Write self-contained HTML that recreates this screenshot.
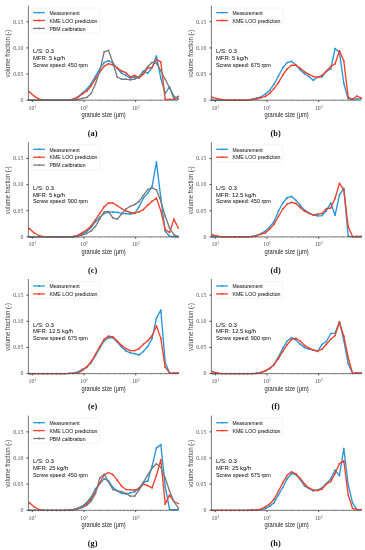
<!DOCTYPE html>
<html><head><meta charset="utf-8"><style>
html,body{margin:0;padding:0;background:#fff;width:365px;height:550px;overflow:hidden}
svg{display:block;will-change:transform}
text{fill:#1e1e1e}
.tk{font-family:"Liberation Serif",serif;font-size:5.8px;fill:#505050}
.sup{font-size:3.7px}
.yl{font-family:"Liberation Sans",sans-serif;font-size:6.3px;fill:#444}
.lb{font-family:"Liberation Sans",sans-serif;font-size:6.4px;fill:#1e1e1e}
.lg{font-family:"Liberation Sans",sans-serif;font-size:6.0px;stroke:#1e1e1e;stroke-width:0.04px}
.an{font-family:"Liberation Sans",sans-serif;font-size:6.2px;stroke:#1e1e1e;stroke-width:0.05px}
.cp{font-family:"Liberation Serif",serif;font-size:8.3px;font-weight:bold;fill:#111}
</style></head><body>
<svg width="365" height="550" viewBox="0 0 365 550">
<rect width="365" height="550" fill="#fff"/>
<polyline points="28.40,100.20 30.02,100.20 34.38,100.20 38.74,100.20 43.10,100.20 47.46,100.20 51.82,100.20 56.18,100.20 60.54,100.20 64.90,100.20 69.26,100.20 73.62,98.90 77.98,96.80 82.34,92.90 86.70,89.20 91.06,83.80 95.42,76.30 99.78,68.90 104.14,62.60 108.50,60.70 112.86,62.80 117.22,68.30 121.58,73.20 125.94,75.40 130.30,78.10 134.66,77.00 139.02,77.00 143.38,71.00 147.74,73.20 152.10,67.50 156.46,56.10 160.82,78.40 165.18,93.50 169.54,86.90 173.90,99.10 178.26,98.70" fill="none" stroke="#2596db" stroke-width="1.35" stroke-linejoin="round"/>
<circle cx="30.02" cy="100.20" r="0.85" fill="#2596db"/>
<circle cx="34.38" cy="100.20" r="0.85" fill="#2596db"/>
<circle cx="38.74" cy="100.20" r="0.85" fill="#2596db"/>
<circle cx="43.10" cy="100.20" r="0.85" fill="#2596db"/>
<circle cx="47.46" cy="100.20" r="0.85" fill="#2596db"/>
<circle cx="51.82" cy="100.20" r="0.85" fill="#2596db"/>
<circle cx="56.18" cy="100.20" r="0.85" fill="#2596db"/>
<circle cx="60.54" cy="100.20" r="0.85" fill="#2596db"/>
<circle cx="64.90" cy="100.20" r="0.85" fill="#2596db"/>
<circle cx="69.26" cy="100.20" r="0.85" fill="#2596db"/>
<circle cx="73.62" cy="98.90" r="0.85" fill="#2596db"/>
<circle cx="77.98" cy="96.80" r="0.85" fill="#2596db"/>
<circle cx="82.34" cy="92.90" r="0.85" fill="#2596db"/>
<circle cx="86.70" cy="89.20" r="0.85" fill="#2596db"/>
<circle cx="91.06" cy="83.80" r="0.85" fill="#2596db"/>
<circle cx="95.42" cy="76.30" r="0.85" fill="#2596db"/>
<circle cx="99.78" cy="68.90" r="0.85" fill="#2596db"/>
<circle cx="104.14" cy="62.60" r="0.85" fill="#2596db"/>
<circle cx="108.50" cy="60.70" r="0.85" fill="#2596db"/>
<circle cx="112.86" cy="62.80" r="0.85" fill="#2596db"/>
<circle cx="117.22" cy="68.30" r="0.85" fill="#2596db"/>
<circle cx="121.58" cy="73.20" r="0.85" fill="#2596db"/>
<circle cx="125.94" cy="75.40" r="0.85" fill="#2596db"/>
<circle cx="130.30" cy="78.10" r="0.85" fill="#2596db"/>
<circle cx="134.66" cy="77.00" r="0.85" fill="#2596db"/>
<circle cx="139.02" cy="77.00" r="0.85" fill="#2596db"/>
<circle cx="143.38" cy="71.00" r="0.85" fill="#2596db"/>
<circle cx="147.74" cy="73.20" r="0.85" fill="#2596db"/>
<circle cx="152.10" cy="67.50" r="0.85" fill="#2596db"/>
<circle cx="156.46" cy="56.10" r="0.85" fill="#2596db"/>
<circle cx="160.82" cy="78.40" r="0.85" fill="#2596db"/>
<circle cx="165.18" cy="93.50" r="0.85" fill="#2596db"/>
<circle cx="169.54" cy="86.90" r="0.85" fill="#2596db"/>
<circle cx="173.90" cy="99.10" r="0.85" fill="#2596db"/>
<circle cx="178.26" cy="98.70" r="0.85" fill="#2596db"/>
<polyline points="28.40,91.00 30.02,92.50 34.38,96.30 38.74,98.80 43.10,99.80 47.46,100.20 51.82,100.20 56.18,100.20 60.54,100.20 64.90,100.20 69.26,99.90 73.62,99.20 77.98,97.30 82.34,94.00 86.70,91.20 91.06,86.00 95.42,78.90 99.78,72.00 104.14,66.40 108.50,63.60 112.86,65.00 117.22,67.70 121.58,71.00 125.94,72.70 130.30,77.00 134.66,75.40 139.02,78.10 143.38,74.30 147.74,67.80 152.10,67.50 156.46,59.50 160.82,61.80 165.18,99.10 169.54,99.30 173.90,99.10 178.26,96.30" fill="none" stroke="#f2402a" stroke-width="1.35" stroke-linejoin="round"/>
<circle cx="30.02" cy="92.50" r="0.85" fill="#f2402a"/>
<circle cx="34.38" cy="96.30" r="0.85" fill="#f2402a"/>
<circle cx="38.74" cy="98.80" r="0.85" fill="#f2402a"/>
<circle cx="43.10" cy="99.80" r="0.85" fill="#f2402a"/>
<circle cx="47.46" cy="100.20" r="0.85" fill="#f2402a"/>
<circle cx="51.82" cy="100.20" r="0.85" fill="#f2402a"/>
<circle cx="56.18" cy="100.20" r="0.85" fill="#f2402a"/>
<circle cx="60.54" cy="100.20" r="0.85" fill="#f2402a"/>
<circle cx="64.90" cy="100.20" r="0.85" fill="#f2402a"/>
<circle cx="69.26" cy="99.90" r="0.85" fill="#f2402a"/>
<circle cx="73.62" cy="99.20" r="0.85" fill="#f2402a"/>
<circle cx="77.98" cy="97.30" r="0.85" fill="#f2402a"/>
<circle cx="82.34" cy="94.00" r="0.85" fill="#f2402a"/>
<circle cx="86.70" cy="91.20" r="0.85" fill="#f2402a"/>
<circle cx="91.06" cy="86.00" r="0.85" fill="#f2402a"/>
<circle cx="95.42" cy="78.90" r="0.85" fill="#f2402a"/>
<circle cx="99.78" cy="72.00" r="0.85" fill="#f2402a"/>
<circle cx="104.14" cy="66.40" r="0.85" fill="#f2402a"/>
<circle cx="108.50" cy="63.60" r="0.85" fill="#f2402a"/>
<circle cx="112.86" cy="65.00" r="0.85" fill="#f2402a"/>
<circle cx="117.22" cy="67.70" r="0.85" fill="#f2402a"/>
<circle cx="121.58" cy="71.00" r="0.85" fill="#f2402a"/>
<circle cx="125.94" cy="72.70" r="0.85" fill="#f2402a"/>
<circle cx="130.30" cy="77.00" r="0.85" fill="#f2402a"/>
<circle cx="134.66" cy="75.40" r="0.85" fill="#f2402a"/>
<circle cx="139.02" cy="78.10" r="0.85" fill="#f2402a"/>
<circle cx="143.38" cy="74.30" r="0.85" fill="#f2402a"/>
<circle cx="147.74" cy="67.80" r="0.85" fill="#f2402a"/>
<circle cx="152.10" cy="67.50" r="0.85" fill="#f2402a"/>
<circle cx="156.46" cy="59.50" r="0.85" fill="#f2402a"/>
<circle cx="160.82" cy="61.80" r="0.85" fill="#f2402a"/>
<circle cx="165.18" cy="99.10" r="0.85" fill="#f2402a"/>
<circle cx="169.54" cy="99.30" r="0.85" fill="#f2402a"/>
<circle cx="173.90" cy="99.10" r="0.85" fill="#f2402a"/>
<circle cx="178.26" cy="96.30" r="0.85" fill="#f2402a"/>
<polyline points="28.40,100.20 30.02,100.20 34.38,100.20 38.74,100.20 43.10,100.20 47.46,100.20 51.82,100.20 56.18,100.20 60.54,100.20 64.90,100.20 69.26,100.20 73.62,100.00 77.98,99.50 82.34,98.40 86.70,97.40 91.06,93.50 95.42,84.00 99.78,70.80 104.14,51.80 108.50,50.40 112.86,62.80 117.22,77.00 121.58,79.20 125.94,79.20 130.30,79.80 134.66,79.20 139.02,76.80 143.38,72.10 147.74,66.60 152.10,62.30 156.46,63.20 160.82,70.80 165.18,79.30 169.54,87.80 173.90,96.30 178.26,98.70" fill="none" stroke="#7a7a7a" stroke-width="1.35" stroke-linejoin="round"/>
<circle cx="30.02" cy="100.20" r="0.85" fill="#7a7a7a"/>
<circle cx="34.38" cy="100.20" r="0.85" fill="#7a7a7a"/>
<circle cx="38.74" cy="100.20" r="0.85" fill="#7a7a7a"/>
<circle cx="43.10" cy="100.20" r="0.85" fill="#7a7a7a"/>
<circle cx="47.46" cy="100.20" r="0.85" fill="#7a7a7a"/>
<circle cx="51.82" cy="100.20" r="0.85" fill="#7a7a7a"/>
<circle cx="56.18" cy="100.20" r="0.85" fill="#7a7a7a"/>
<circle cx="60.54" cy="100.20" r="0.85" fill="#7a7a7a"/>
<circle cx="64.90" cy="100.20" r="0.85" fill="#7a7a7a"/>
<circle cx="69.26" cy="100.20" r="0.85" fill="#7a7a7a"/>
<circle cx="73.62" cy="100.00" r="0.85" fill="#7a7a7a"/>
<circle cx="77.98" cy="99.50" r="0.85" fill="#7a7a7a"/>
<circle cx="82.34" cy="98.40" r="0.85" fill="#7a7a7a"/>
<circle cx="86.70" cy="97.40" r="0.85" fill="#7a7a7a"/>
<circle cx="91.06" cy="93.50" r="0.85" fill="#7a7a7a"/>
<circle cx="95.42" cy="84.00" r="0.85" fill="#7a7a7a"/>
<circle cx="99.78" cy="70.80" r="0.85" fill="#7a7a7a"/>
<circle cx="104.14" cy="51.80" r="0.85" fill="#7a7a7a"/>
<circle cx="108.50" cy="50.40" r="0.85" fill="#7a7a7a"/>
<circle cx="112.86" cy="62.80" r="0.85" fill="#7a7a7a"/>
<circle cx="117.22" cy="77.00" r="0.85" fill="#7a7a7a"/>
<circle cx="121.58" cy="79.20" r="0.85" fill="#7a7a7a"/>
<circle cx="125.94" cy="79.20" r="0.85" fill="#7a7a7a"/>
<circle cx="130.30" cy="79.80" r="0.85" fill="#7a7a7a"/>
<circle cx="134.66" cy="79.20" r="0.85" fill="#7a7a7a"/>
<circle cx="139.02" cy="76.80" r="0.85" fill="#7a7a7a"/>
<circle cx="143.38" cy="72.10" r="0.85" fill="#7a7a7a"/>
<circle cx="147.74" cy="66.60" r="0.85" fill="#7a7a7a"/>
<circle cx="152.10" cy="62.30" r="0.85" fill="#7a7a7a"/>
<circle cx="156.46" cy="63.20" r="0.85" fill="#7a7a7a"/>
<circle cx="160.82" cy="70.80" r="0.85" fill="#7a7a7a"/>
<circle cx="165.18" cy="79.30" r="0.85" fill="#7a7a7a"/>
<circle cx="169.54" cy="87.80" r="0.85" fill="#7a7a7a"/>
<circle cx="173.90" cy="96.30" r="0.85" fill="#7a7a7a"/>
<circle cx="178.26" cy="98.70" r="0.85" fill="#7a7a7a"/>
<g transform="translate(0,0)">
<line x1="28.4" y1="5.6" x2="28.4" y2="100.60000000000001" stroke="#555555" stroke-width="0.8"/>
<line x1="28.0" y1="100.2" x2="178.2" y2="100.2" stroke="#555555" stroke-width="0.8"/>
<line x1="26.5" y1="100.20" x2="28.4" y2="100.20" stroke="#333" stroke-width="0.9"/>
<text x="23.3" y="102.10" class="tk" text-anchor="end">0</text>
<line x1="26.5" y1="74.05" x2="28.4" y2="74.05" stroke="#333" stroke-width="0.9"/>
<text x="23.3" y="75.95" class="tk" text-anchor="end">0.05</text>
<line x1="26.5" y1="47.90" x2="28.4" y2="47.90" stroke="#333" stroke-width="0.9"/>
<text x="23.3" y="49.80" class="tk" text-anchor="end">0.10</text>
<line x1="26.5" y1="21.75" x2="28.4" y2="21.75" stroke="#333" stroke-width="0.9"/>
<text x="23.3" y="23.65" class="tk" text-anchor="end">0.15</text>
<line x1="32.30" y1="100.2" x2="32.30" y2="102.0" stroke="#333" stroke-width="0.9"/>
<text x="32.40" y="109.50" class="tk" text-anchor="middle">10<tspan class="sup" dy="-1.8">1</tspan></text>
<line x1="84.00" y1="100.2" x2="84.00" y2="102.0" stroke="#333" stroke-width="0.9"/>
<text x="84.10" y="109.50" class="tk" text-anchor="middle">10<tspan class="sup" dy="-1.8">2</tspan></text>
<line x1="135.70" y1="100.2" x2="135.70" y2="102.0" stroke="#333" stroke-width="0.9"/>
<text x="135.80" y="109.50" class="tk" text-anchor="middle">10<tspan class="sup" dy="-1.8">3</tspan></text>
<line x1="29.93" y1="100.2" x2="29.93" y2="101.10000000000001" stroke="#555555" stroke-width="0.5"/>
<line x1="47.86" y1="100.2" x2="47.86" y2="101.10000000000001" stroke="#555555" stroke-width="0.5"/>
<line x1="56.97" y1="100.2" x2="56.97" y2="101.10000000000001" stroke="#555555" stroke-width="0.5"/>
<line x1="63.43" y1="100.2" x2="63.43" y2="101.10000000000001" stroke="#555555" stroke-width="0.5"/>
<line x1="68.44" y1="100.2" x2="68.44" y2="101.10000000000001" stroke="#555555" stroke-width="0.5"/>
<line x1="72.53" y1="100.2" x2="72.53" y2="101.10000000000001" stroke="#555555" stroke-width="0.5"/>
<line x1="75.99" y1="100.2" x2="75.99" y2="101.10000000000001" stroke="#555555" stroke-width="0.5"/>
<line x1="78.99" y1="100.2" x2="78.99" y2="101.10000000000001" stroke="#555555" stroke-width="0.5"/>
<line x1="81.63" y1="100.2" x2="81.63" y2="101.10000000000001" stroke="#555555" stroke-width="0.5"/>
<line x1="99.56" y1="100.2" x2="99.56" y2="101.10000000000001" stroke="#555555" stroke-width="0.5"/>
<line x1="108.67" y1="100.2" x2="108.67" y2="101.10000000000001" stroke="#555555" stroke-width="0.5"/>
<line x1="115.13" y1="100.2" x2="115.13" y2="101.10000000000001" stroke="#555555" stroke-width="0.5"/>
<line x1="120.14" y1="100.2" x2="120.14" y2="101.10000000000001" stroke="#555555" stroke-width="0.5"/>
<line x1="124.23" y1="100.2" x2="124.23" y2="101.10000000000001" stroke="#555555" stroke-width="0.5"/>
<line x1="127.69" y1="100.2" x2="127.69" y2="101.10000000000001" stroke="#555555" stroke-width="0.5"/>
<line x1="130.69" y1="100.2" x2="130.69" y2="101.10000000000001" stroke="#555555" stroke-width="0.5"/>
<line x1="133.33" y1="100.2" x2="133.33" y2="101.10000000000001" stroke="#555555" stroke-width="0.5"/>
<line x1="151.26" y1="100.2" x2="151.26" y2="101.10000000000001" stroke="#555555" stroke-width="0.5"/>
<line x1="160.37" y1="100.2" x2="160.37" y2="101.10000000000001" stroke="#555555" stroke-width="0.5"/>
<line x1="166.83" y1="100.2" x2="166.83" y2="101.10000000000001" stroke="#555555" stroke-width="0.5"/>
<line x1="171.84" y1="100.2" x2="171.84" y2="101.10000000000001" stroke="#555555" stroke-width="0.5"/>
<line x1="175.93" y1="100.2" x2="175.93" y2="101.10000000000001" stroke="#555555" stroke-width="0.5"/>
<text transform="translate(103.6,117.3) scale(0.895,1)" class="lb" text-anchor="middle">granule size (μm)</text>
<text transform="translate(10.1,53.6) rotate(-90) scale(0.945,1)" class="yl" text-anchor="middle">volume fraction (-)</text>
<rect x="31.5" y="8.1" width="68.2" height="25.0" rx="1" fill="#fff" fill-opacity="0.8" stroke="#e6e6e6" stroke-width="0.4"/>
<line x1="33.1" y1="12.60" x2="44.9" y2="12.60" stroke="#2596db" stroke-width="1.3"/>
<circle cx="39.2" cy="12.60" r="0.9" fill="#2596db"/>
<text transform="translate(49.4,14.80) scale(0.823,1)" class="lg">Measurement</text>
<line x1="33.1" y1="20.50" x2="44.9" y2="20.50" stroke="#f2402a" stroke-width="1.3"/>
<circle cx="39.2" cy="20.50" r="0.9" fill="#f2402a"/>
<text transform="translate(49.4,22.70) scale(0.878,1)" class="lg">KME LOO prediction</text>
<line x1="33.1" y1="28.40" x2="44.9" y2="28.40" stroke="#7a7a7a" stroke-width="1.3"/>
<circle cx="39.2" cy="28.40" r="0.9" fill="#7a7a7a"/>
<text transform="translate(49.4,30.60) scale(0.864,1)" class="lg">PBM calibration</text>
<text transform="translate(32.9,53.20) scale(0.99,1)" class="an">L/S: 0.3</text>
<text transform="translate(32.9,59.85) scale(0.95,1)" class="an">MFR: 5 kg/h</text>
<text transform="translate(32.9,66.50) scale(0.888,1)" class="an">Screw speed: 450 rpm</text>
<text x="92.6" y="136.1" class="cp" text-anchor="middle">(a)</text>
</g>
<polyline points="211.40,100.20 213.02,100.20 217.38,100.20 221.74,100.20 226.10,100.20 230.46,100.20 234.82,100.20 239.18,100.20 243.54,100.20 247.90,100.20 252.26,99.20 256.62,98.10 260.98,96.80 265.34,94.00 269.70,90.20 274.06,84.20 278.42,76.00 282.78,67.70 287.14,62.60 291.50,61.30 295.86,65.00 300.22,69.90 304.58,73.80 308.94,76.50 313.30,80.30 317.66,77.00 322.02,76.80 326.38,71.40 330.74,69.00 335.10,48.50 339.46,52.40 343.82,83.50 348.18,98.70 352.54,99.30 356.90,98.90 361.26,98.70" fill="none" stroke="#2596db" stroke-width="1.35" stroke-linejoin="round"/>
<circle cx="213.02" cy="100.20" r="0.85" fill="#2596db"/>
<circle cx="217.38" cy="100.20" r="0.85" fill="#2596db"/>
<circle cx="221.74" cy="100.20" r="0.85" fill="#2596db"/>
<circle cx="226.10" cy="100.20" r="0.85" fill="#2596db"/>
<circle cx="230.46" cy="100.20" r="0.85" fill="#2596db"/>
<circle cx="234.82" cy="100.20" r="0.85" fill="#2596db"/>
<circle cx="239.18" cy="100.20" r="0.85" fill="#2596db"/>
<circle cx="243.54" cy="100.20" r="0.85" fill="#2596db"/>
<circle cx="247.90" cy="100.20" r="0.85" fill="#2596db"/>
<circle cx="252.26" cy="99.20" r="0.85" fill="#2596db"/>
<circle cx="256.62" cy="98.10" r="0.85" fill="#2596db"/>
<circle cx="260.98" cy="96.80" r="0.85" fill="#2596db"/>
<circle cx="265.34" cy="94.00" r="0.85" fill="#2596db"/>
<circle cx="269.70" cy="90.20" r="0.85" fill="#2596db"/>
<circle cx="274.06" cy="84.20" r="0.85" fill="#2596db"/>
<circle cx="278.42" cy="76.00" r="0.85" fill="#2596db"/>
<circle cx="282.78" cy="67.70" r="0.85" fill="#2596db"/>
<circle cx="287.14" cy="62.60" r="0.85" fill="#2596db"/>
<circle cx="291.50" cy="61.30" r="0.85" fill="#2596db"/>
<circle cx="295.86" cy="65.00" r="0.85" fill="#2596db"/>
<circle cx="300.22" cy="69.90" r="0.85" fill="#2596db"/>
<circle cx="304.58" cy="73.80" r="0.85" fill="#2596db"/>
<circle cx="308.94" cy="76.50" r="0.85" fill="#2596db"/>
<circle cx="313.30" cy="80.30" r="0.85" fill="#2596db"/>
<circle cx="317.66" cy="77.00" r="0.85" fill="#2596db"/>
<circle cx="322.02" cy="76.80" r="0.85" fill="#2596db"/>
<circle cx="326.38" cy="71.40" r="0.85" fill="#2596db"/>
<circle cx="330.74" cy="69.00" r="0.85" fill="#2596db"/>
<circle cx="335.10" cy="48.50" r="0.85" fill="#2596db"/>
<circle cx="339.46" cy="52.40" r="0.85" fill="#2596db"/>
<circle cx="343.82" cy="83.50" r="0.85" fill="#2596db"/>
<circle cx="348.18" cy="98.70" r="0.85" fill="#2596db"/>
<circle cx="352.54" cy="99.30" r="0.85" fill="#2596db"/>
<circle cx="356.90" cy="98.90" r="0.85" fill="#2596db"/>
<circle cx="361.26" cy="98.70" r="0.85" fill="#2596db"/>
<polyline points="211.40,97.00 213.02,97.60 217.38,98.70 221.74,99.50 226.10,100.20 230.46,100.20 234.82,100.20 239.18,100.20 243.54,100.20 247.90,100.20 252.26,99.50 256.62,99.00 260.98,97.60 265.34,96.40 269.70,93.20 274.06,88.60 278.42,82.60 282.78,75.00 287.14,68.90 291.50,65.30 295.86,65.00 300.22,68.30 304.58,71.80 308.94,74.30 313.30,76.50 317.66,77.30 322.02,75.40 326.38,71.00 330.74,66.60 335.10,63.80 339.46,50.70 343.82,61.10 348.18,97.10 352.54,99.30 356.90,96.00 361.26,98.20" fill="none" stroke="#f2402a" stroke-width="1.35" stroke-linejoin="round"/>
<circle cx="213.02" cy="97.60" r="0.85" fill="#f2402a"/>
<circle cx="217.38" cy="98.70" r="0.85" fill="#f2402a"/>
<circle cx="221.74" cy="99.50" r="0.85" fill="#f2402a"/>
<circle cx="226.10" cy="100.20" r="0.85" fill="#f2402a"/>
<circle cx="230.46" cy="100.20" r="0.85" fill="#f2402a"/>
<circle cx="234.82" cy="100.20" r="0.85" fill="#f2402a"/>
<circle cx="239.18" cy="100.20" r="0.85" fill="#f2402a"/>
<circle cx="243.54" cy="100.20" r="0.85" fill="#f2402a"/>
<circle cx="247.90" cy="100.20" r="0.85" fill="#f2402a"/>
<circle cx="252.26" cy="99.50" r="0.85" fill="#f2402a"/>
<circle cx="256.62" cy="99.00" r="0.85" fill="#f2402a"/>
<circle cx="260.98" cy="97.60" r="0.85" fill="#f2402a"/>
<circle cx="265.34" cy="96.40" r="0.85" fill="#f2402a"/>
<circle cx="269.70" cy="93.20" r="0.85" fill="#f2402a"/>
<circle cx="274.06" cy="88.60" r="0.85" fill="#f2402a"/>
<circle cx="278.42" cy="82.60" r="0.85" fill="#f2402a"/>
<circle cx="282.78" cy="75.00" r="0.85" fill="#f2402a"/>
<circle cx="287.14" cy="68.90" r="0.85" fill="#f2402a"/>
<circle cx="291.50" cy="65.30" r="0.85" fill="#f2402a"/>
<circle cx="295.86" cy="65.00" r="0.85" fill="#f2402a"/>
<circle cx="300.22" cy="68.30" r="0.85" fill="#f2402a"/>
<circle cx="304.58" cy="71.80" r="0.85" fill="#f2402a"/>
<circle cx="308.94" cy="74.30" r="0.85" fill="#f2402a"/>
<circle cx="313.30" cy="76.50" r="0.85" fill="#f2402a"/>
<circle cx="317.66" cy="77.30" r="0.85" fill="#f2402a"/>
<circle cx="322.02" cy="75.40" r="0.85" fill="#f2402a"/>
<circle cx="326.38" cy="71.00" r="0.85" fill="#f2402a"/>
<circle cx="330.74" cy="66.60" r="0.85" fill="#f2402a"/>
<circle cx="335.10" cy="63.80" r="0.85" fill="#f2402a"/>
<circle cx="339.46" cy="50.70" r="0.85" fill="#f2402a"/>
<circle cx="343.82" cy="61.10" r="0.85" fill="#f2402a"/>
<circle cx="348.18" cy="97.10" r="0.85" fill="#f2402a"/>
<circle cx="352.54" cy="99.30" r="0.85" fill="#f2402a"/>
<circle cx="356.90" cy="96.00" r="0.85" fill="#f2402a"/>
<circle cx="361.26" cy="98.20" r="0.85" fill="#f2402a"/>
<g transform="translate(183,0)">
<line x1="28.4" y1="5.6" x2="28.4" y2="100.60000000000001" stroke="#555555" stroke-width="0.8"/>
<line x1="28.0" y1="100.2" x2="178.2" y2="100.2" stroke="#555555" stroke-width="0.8"/>
<line x1="26.5" y1="100.20" x2="28.4" y2="100.20" stroke="#333" stroke-width="0.9"/>
<text x="23.3" y="102.10" class="tk" text-anchor="end">0</text>
<line x1="26.5" y1="74.05" x2="28.4" y2="74.05" stroke="#333" stroke-width="0.9"/>
<text x="23.3" y="75.95" class="tk" text-anchor="end">0.05</text>
<line x1="26.5" y1="47.90" x2="28.4" y2="47.90" stroke="#333" stroke-width="0.9"/>
<text x="23.3" y="49.80" class="tk" text-anchor="end">0.10</text>
<line x1="26.5" y1="21.75" x2="28.4" y2="21.75" stroke="#333" stroke-width="0.9"/>
<text x="23.3" y="23.65" class="tk" text-anchor="end">0.15</text>
<line x1="32.30" y1="100.2" x2="32.30" y2="102.0" stroke="#333" stroke-width="0.9"/>
<text x="32.40" y="109.50" class="tk" text-anchor="middle">10<tspan class="sup" dy="-1.8">1</tspan></text>
<line x1="84.00" y1="100.2" x2="84.00" y2="102.0" stroke="#333" stroke-width="0.9"/>
<text x="84.10" y="109.50" class="tk" text-anchor="middle">10<tspan class="sup" dy="-1.8">2</tspan></text>
<line x1="135.70" y1="100.2" x2="135.70" y2="102.0" stroke="#333" stroke-width="0.9"/>
<text x="135.80" y="109.50" class="tk" text-anchor="middle">10<tspan class="sup" dy="-1.8">3</tspan></text>
<line x1="29.93" y1="100.2" x2="29.93" y2="101.10000000000001" stroke="#555555" stroke-width="0.5"/>
<line x1="47.86" y1="100.2" x2="47.86" y2="101.10000000000001" stroke="#555555" stroke-width="0.5"/>
<line x1="56.97" y1="100.2" x2="56.97" y2="101.10000000000001" stroke="#555555" stroke-width="0.5"/>
<line x1="63.43" y1="100.2" x2="63.43" y2="101.10000000000001" stroke="#555555" stroke-width="0.5"/>
<line x1="68.44" y1="100.2" x2="68.44" y2="101.10000000000001" stroke="#555555" stroke-width="0.5"/>
<line x1="72.53" y1="100.2" x2="72.53" y2="101.10000000000001" stroke="#555555" stroke-width="0.5"/>
<line x1="75.99" y1="100.2" x2="75.99" y2="101.10000000000001" stroke="#555555" stroke-width="0.5"/>
<line x1="78.99" y1="100.2" x2="78.99" y2="101.10000000000001" stroke="#555555" stroke-width="0.5"/>
<line x1="81.63" y1="100.2" x2="81.63" y2="101.10000000000001" stroke="#555555" stroke-width="0.5"/>
<line x1="99.56" y1="100.2" x2="99.56" y2="101.10000000000001" stroke="#555555" stroke-width="0.5"/>
<line x1="108.67" y1="100.2" x2="108.67" y2="101.10000000000001" stroke="#555555" stroke-width="0.5"/>
<line x1="115.13" y1="100.2" x2="115.13" y2="101.10000000000001" stroke="#555555" stroke-width="0.5"/>
<line x1="120.14" y1="100.2" x2="120.14" y2="101.10000000000001" stroke="#555555" stroke-width="0.5"/>
<line x1="124.23" y1="100.2" x2="124.23" y2="101.10000000000001" stroke="#555555" stroke-width="0.5"/>
<line x1="127.69" y1="100.2" x2="127.69" y2="101.10000000000001" stroke="#555555" stroke-width="0.5"/>
<line x1="130.69" y1="100.2" x2="130.69" y2="101.10000000000001" stroke="#555555" stroke-width="0.5"/>
<line x1="133.33" y1="100.2" x2="133.33" y2="101.10000000000001" stroke="#555555" stroke-width="0.5"/>
<line x1="151.26" y1="100.2" x2="151.26" y2="101.10000000000001" stroke="#555555" stroke-width="0.5"/>
<line x1="160.37" y1="100.2" x2="160.37" y2="101.10000000000001" stroke="#555555" stroke-width="0.5"/>
<line x1="166.83" y1="100.2" x2="166.83" y2="101.10000000000001" stroke="#555555" stroke-width="0.5"/>
<line x1="171.84" y1="100.2" x2="171.84" y2="101.10000000000001" stroke="#555555" stroke-width="0.5"/>
<line x1="175.93" y1="100.2" x2="175.93" y2="101.10000000000001" stroke="#555555" stroke-width="0.5"/>
<text transform="translate(103.6,117.3) scale(0.895,1)" class="lb" text-anchor="middle">granule size (μm)</text>
<text transform="translate(10.1,53.6) rotate(-90) scale(0.945,1)" class="yl" text-anchor="middle">volume fraction (-)</text>
<rect x="31.5" y="8.1" width="68.2" height="17.1" rx="1" fill="#fff" fill-opacity="0.8" stroke="#e6e6e6" stroke-width="0.4"/>
<line x1="33.1" y1="12.60" x2="44.9" y2="12.60" stroke="#2596db" stroke-width="1.3"/>
<circle cx="39.2" cy="12.60" r="0.9" fill="#2596db"/>
<text transform="translate(49.4,14.80) scale(0.823,1)" class="lg">Measurement</text>
<line x1="33.1" y1="20.50" x2="44.9" y2="20.50" stroke="#f2402a" stroke-width="1.3"/>
<circle cx="39.2" cy="20.50" r="0.9" fill="#f2402a"/>
<text transform="translate(49.4,22.70) scale(0.878,1)" class="lg">KME LOO prediction</text>
<text transform="translate(32.9,53.20) scale(0.99,1)" class="an">L/S: 0.3</text>
<text transform="translate(32.9,59.85) scale(0.95,1)" class="an">MFR: 5 kg/h</text>
<text transform="translate(32.9,66.50) scale(0.888,1)" class="an">Screw speed: 675 rpm</text>
<text x="92.6" y="136.1" class="cp" text-anchor="middle">(b)</text>
</g>
<polyline points="28.40,236.90 30.02,236.90 34.38,236.90 38.74,236.90 43.10,236.90 47.46,236.90 51.82,236.90 56.18,236.90 60.54,236.90 64.90,236.90 69.26,236.90 73.62,236.40 77.98,235.30 82.34,234.00 86.70,231.60 91.06,227.60 95.42,221.70 99.78,217.30 104.14,213.40 108.50,212.30 112.86,211.80 117.22,212.30 121.58,213.40 125.94,213.70 130.30,214.00 134.66,213.40 139.02,206.80 143.38,198.10 147.74,193.10 152.10,186.30 156.46,162.20 160.82,198.20 165.18,231.00 169.54,236.20 173.90,236.70 178.26,236.70" fill="none" stroke="#2596db" stroke-width="1.35" stroke-linejoin="round"/>
<circle cx="30.02" cy="236.90" r="0.85" fill="#2596db"/>
<circle cx="34.38" cy="236.90" r="0.85" fill="#2596db"/>
<circle cx="38.74" cy="236.90" r="0.85" fill="#2596db"/>
<circle cx="43.10" cy="236.90" r="0.85" fill="#2596db"/>
<circle cx="47.46" cy="236.90" r="0.85" fill="#2596db"/>
<circle cx="51.82" cy="236.90" r="0.85" fill="#2596db"/>
<circle cx="56.18" cy="236.90" r="0.85" fill="#2596db"/>
<circle cx="60.54" cy="236.90" r="0.85" fill="#2596db"/>
<circle cx="64.90" cy="236.90" r="0.85" fill="#2596db"/>
<circle cx="69.26" cy="236.90" r="0.85" fill="#2596db"/>
<circle cx="73.62" cy="236.40" r="0.85" fill="#2596db"/>
<circle cx="77.98" cy="235.30" r="0.85" fill="#2596db"/>
<circle cx="82.34" cy="234.00" r="0.85" fill="#2596db"/>
<circle cx="86.70" cy="231.60" r="0.85" fill="#2596db"/>
<circle cx="91.06" cy="227.60" r="0.85" fill="#2596db"/>
<circle cx="95.42" cy="221.70" r="0.85" fill="#2596db"/>
<circle cx="99.78" cy="217.30" r="0.85" fill="#2596db"/>
<circle cx="104.14" cy="213.40" r="0.85" fill="#2596db"/>
<circle cx="108.50" cy="212.30" r="0.85" fill="#2596db"/>
<circle cx="112.86" cy="211.80" r="0.85" fill="#2596db"/>
<circle cx="117.22" cy="212.30" r="0.85" fill="#2596db"/>
<circle cx="121.58" cy="213.40" r="0.85" fill="#2596db"/>
<circle cx="125.94" cy="213.70" r="0.85" fill="#2596db"/>
<circle cx="130.30" cy="214.00" r="0.85" fill="#2596db"/>
<circle cx="134.66" cy="213.40" r="0.85" fill="#2596db"/>
<circle cx="139.02" cy="206.80" r="0.85" fill="#2596db"/>
<circle cx="143.38" cy="198.10" r="0.85" fill="#2596db"/>
<circle cx="147.74" cy="193.10" r="0.85" fill="#2596db"/>
<circle cx="152.10" cy="186.30" r="0.85" fill="#2596db"/>
<circle cx="156.46" cy="162.20" r="0.85" fill="#2596db"/>
<circle cx="160.82" cy="198.20" r="0.85" fill="#2596db"/>
<circle cx="165.18" cy="231.00" r="0.85" fill="#2596db"/>
<circle cx="169.54" cy="236.20" r="0.85" fill="#2596db"/>
<circle cx="173.90" cy="236.70" r="0.85" fill="#2596db"/>
<circle cx="178.26" cy="236.70" r="0.85" fill="#2596db"/>
<polyline points="28.40,227.70 30.02,229.20 34.38,233.00 38.74,235.50 43.10,236.60 47.46,236.90 51.82,236.90 56.18,236.90 60.54,236.90 64.90,236.90 69.26,236.90 73.62,236.50 77.98,235.30 82.34,232.70 86.70,230.00 91.06,225.90 95.42,219.80 99.78,213.40 104.14,206.80 108.50,203.00 112.86,203.00 117.22,205.70 121.58,208.50 125.94,211.00 130.30,212.30 134.66,212.90 139.02,211.80 143.38,209.60 147.74,205.20 152.10,201.20 156.46,198.20 160.82,210.90 165.18,229.50 169.54,232.50 173.90,219.10 178.26,228.00" fill="none" stroke="#f2402a" stroke-width="1.35" stroke-linejoin="round"/>
<circle cx="30.02" cy="229.20" r="0.85" fill="#f2402a"/>
<circle cx="34.38" cy="233.00" r="0.85" fill="#f2402a"/>
<circle cx="38.74" cy="235.50" r="0.85" fill="#f2402a"/>
<circle cx="43.10" cy="236.60" r="0.85" fill="#f2402a"/>
<circle cx="47.46" cy="236.90" r="0.85" fill="#f2402a"/>
<circle cx="51.82" cy="236.90" r="0.85" fill="#f2402a"/>
<circle cx="56.18" cy="236.90" r="0.85" fill="#f2402a"/>
<circle cx="60.54" cy="236.90" r="0.85" fill="#f2402a"/>
<circle cx="64.90" cy="236.90" r="0.85" fill="#f2402a"/>
<circle cx="69.26" cy="236.90" r="0.85" fill="#f2402a"/>
<circle cx="73.62" cy="236.50" r="0.85" fill="#f2402a"/>
<circle cx="77.98" cy="235.30" r="0.85" fill="#f2402a"/>
<circle cx="82.34" cy="232.70" r="0.85" fill="#f2402a"/>
<circle cx="86.70" cy="230.00" r="0.85" fill="#f2402a"/>
<circle cx="91.06" cy="225.90" r="0.85" fill="#f2402a"/>
<circle cx="95.42" cy="219.80" r="0.85" fill="#f2402a"/>
<circle cx="99.78" cy="213.40" r="0.85" fill="#f2402a"/>
<circle cx="104.14" cy="206.80" r="0.85" fill="#f2402a"/>
<circle cx="108.50" cy="203.00" r="0.85" fill="#f2402a"/>
<circle cx="112.86" cy="203.00" r="0.85" fill="#f2402a"/>
<circle cx="117.22" cy="205.70" r="0.85" fill="#f2402a"/>
<circle cx="121.58" cy="208.50" r="0.85" fill="#f2402a"/>
<circle cx="125.94" cy="211.00" r="0.85" fill="#f2402a"/>
<circle cx="130.30" cy="212.30" r="0.85" fill="#f2402a"/>
<circle cx="134.66" cy="212.90" r="0.85" fill="#f2402a"/>
<circle cx="139.02" cy="211.80" r="0.85" fill="#f2402a"/>
<circle cx="143.38" cy="209.60" r="0.85" fill="#f2402a"/>
<circle cx="147.74" cy="205.20" r="0.85" fill="#f2402a"/>
<circle cx="152.10" cy="201.20" r="0.85" fill="#f2402a"/>
<circle cx="156.46" cy="198.20" r="0.85" fill="#f2402a"/>
<circle cx="160.82" cy="210.90" r="0.85" fill="#f2402a"/>
<circle cx="165.18" cy="229.50" r="0.85" fill="#f2402a"/>
<circle cx="169.54" cy="232.50" r="0.85" fill="#f2402a"/>
<circle cx="173.90" cy="219.10" r="0.85" fill="#f2402a"/>
<circle cx="178.26" cy="228.00" r="0.85" fill="#f2402a"/>
<polyline points="28.40,236.90 30.02,236.90 34.38,236.90 38.74,236.90 43.10,236.90 47.46,236.90 51.82,236.90 56.18,236.90 60.54,236.90 64.90,236.90 69.26,236.90 73.62,236.90 77.98,236.40 82.34,234.90 86.70,233.50 91.06,230.90 95.42,226.50 99.78,218.60 104.14,211.80 108.50,211.50 112.86,217.80 117.22,219.20 121.58,214.00 125.94,209.00 130.30,206.30 134.66,204.60 139.02,201.40 143.38,195.30 147.74,189.60 152.10,187.80 156.46,190.00 160.82,201.20 165.18,216.10 169.54,228.00 173.90,234.70 178.26,236.70" fill="none" stroke="#7a7a7a" stroke-width="1.35" stroke-linejoin="round"/>
<circle cx="30.02" cy="236.90" r="0.85" fill="#7a7a7a"/>
<circle cx="34.38" cy="236.90" r="0.85" fill="#7a7a7a"/>
<circle cx="38.74" cy="236.90" r="0.85" fill="#7a7a7a"/>
<circle cx="43.10" cy="236.90" r="0.85" fill="#7a7a7a"/>
<circle cx="47.46" cy="236.90" r="0.85" fill="#7a7a7a"/>
<circle cx="51.82" cy="236.90" r="0.85" fill="#7a7a7a"/>
<circle cx="56.18" cy="236.90" r="0.85" fill="#7a7a7a"/>
<circle cx="60.54" cy="236.90" r="0.85" fill="#7a7a7a"/>
<circle cx="64.90" cy="236.90" r="0.85" fill="#7a7a7a"/>
<circle cx="69.26" cy="236.90" r="0.85" fill="#7a7a7a"/>
<circle cx="73.62" cy="236.90" r="0.85" fill="#7a7a7a"/>
<circle cx="77.98" cy="236.40" r="0.85" fill="#7a7a7a"/>
<circle cx="82.34" cy="234.90" r="0.85" fill="#7a7a7a"/>
<circle cx="86.70" cy="233.50" r="0.85" fill="#7a7a7a"/>
<circle cx="91.06" cy="230.90" r="0.85" fill="#7a7a7a"/>
<circle cx="95.42" cy="226.50" r="0.85" fill="#7a7a7a"/>
<circle cx="99.78" cy="218.60" r="0.85" fill="#7a7a7a"/>
<circle cx="104.14" cy="211.80" r="0.85" fill="#7a7a7a"/>
<circle cx="108.50" cy="211.50" r="0.85" fill="#7a7a7a"/>
<circle cx="112.86" cy="217.80" r="0.85" fill="#7a7a7a"/>
<circle cx="117.22" cy="219.20" r="0.85" fill="#7a7a7a"/>
<circle cx="121.58" cy="214.00" r="0.85" fill="#7a7a7a"/>
<circle cx="125.94" cy="209.00" r="0.85" fill="#7a7a7a"/>
<circle cx="130.30" cy="206.30" r="0.85" fill="#7a7a7a"/>
<circle cx="134.66" cy="204.60" r="0.85" fill="#7a7a7a"/>
<circle cx="139.02" cy="201.40" r="0.85" fill="#7a7a7a"/>
<circle cx="143.38" cy="195.30" r="0.85" fill="#7a7a7a"/>
<circle cx="147.74" cy="189.60" r="0.85" fill="#7a7a7a"/>
<circle cx="152.10" cy="187.80" r="0.85" fill="#7a7a7a"/>
<circle cx="156.46" cy="190.00" r="0.85" fill="#7a7a7a"/>
<circle cx="160.82" cy="201.20" r="0.85" fill="#7a7a7a"/>
<circle cx="165.18" cy="216.10" r="0.85" fill="#7a7a7a"/>
<circle cx="169.54" cy="228.00" r="0.85" fill="#7a7a7a"/>
<circle cx="173.90" cy="234.70" r="0.85" fill="#7a7a7a"/>
<circle cx="178.26" cy="236.70" r="0.85" fill="#7a7a7a"/>
<g transform="translate(0,136.7)">
<line x1="28.4" y1="5.6" x2="28.4" y2="100.60000000000001" stroke="#555555" stroke-width="0.8"/>
<line x1="28.0" y1="100.2" x2="178.2" y2="100.2" stroke="#555555" stroke-width="0.8"/>
<line x1="26.5" y1="100.20" x2="28.4" y2="100.20" stroke="#333" stroke-width="0.9"/>
<text x="23.3" y="102.10" class="tk" text-anchor="end">0</text>
<line x1="26.5" y1="74.05" x2="28.4" y2="74.05" stroke="#333" stroke-width="0.9"/>
<text x="23.3" y="75.95" class="tk" text-anchor="end">0.05</text>
<line x1="26.5" y1="47.90" x2="28.4" y2="47.90" stroke="#333" stroke-width="0.9"/>
<text x="23.3" y="49.80" class="tk" text-anchor="end">0.10</text>
<line x1="26.5" y1="21.75" x2="28.4" y2="21.75" stroke="#333" stroke-width="0.9"/>
<text x="23.3" y="23.65" class="tk" text-anchor="end">0.15</text>
<line x1="32.30" y1="100.2" x2="32.30" y2="102.0" stroke="#333" stroke-width="0.9"/>
<text x="32.40" y="109.50" class="tk" text-anchor="middle">10<tspan class="sup" dy="-1.8">1</tspan></text>
<line x1="84.00" y1="100.2" x2="84.00" y2="102.0" stroke="#333" stroke-width="0.9"/>
<text x="84.10" y="109.50" class="tk" text-anchor="middle">10<tspan class="sup" dy="-1.8">2</tspan></text>
<line x1="135.70" y1="100.2" x2="135.70" y2="102.0" stroke="#333" stroke-width="0.9"/>
<text x="135.80" y="109.50" class="tk" text-anchor="middle">10<tspan class="sup" dy="-1.8">3</tspan></text>
<line x1="29.93" y1="100.2" x2="29.93" y2="101.10000000000001" stroke="#555555" stroke-width="0.5"/>
<line x1="47.86" y1="100.2" x2="47.86" y2="101.10000000000001" stroke="#555555" stroke-width="0.5"/>
<line x1="56.97" y1="100.2" x2="56.97" y2="101.10000000000001" stroke="#555555" stroke-width="0.5"/>
<line x1="63.43" y1="100.2" x2="63.43" y2="101.10000000000001" stroke="#555555" stroke-width="0.5"/>
<line x1="68.44" y1="100.2" x2="68.44" y2="101.10000000000001" stroke="#555555" stroke-width="0.5"/>
<line x1="72.53" y1="100.2" x2="72.53" y2="101.10000000000001" stroke="#555555" stroke-width="0.5"/>
<line x1="75.99" y1="100.2" x2="75.99" y2="101.10000000000001" stroke="#555555" stroke-width="0.5"/>
<line x1="78.99" y1="100.2" x2="78.99" y2="101.10000000000001" stroke="#555555" stroke-width="0.5"/>
<line x1="81.63" y1="100.2" x2="81.63" y2="101.10000000000001" stroke="#555555" stroke-width="0.5"/>
<line x1="99.56" y1="100.2" x2="99.56" y2="101.10000000000001" stroke="#555555" stroke-width="0.5"/>
<line x1="108.67" y1="100.2" x2="108.67" y2="101.10000000000001" stroke="#555555" stroke-width="0.5"/>
<line x1="115.13" y1="100.2" x2="115.13" y2="101.10000000000001" stroke="#555555" stroke-width="0.5"/>
<line x1="120.14" y1="100.2" x2="120.14" y2="101.10000000000001" stroke="#555555" stroke-width="0.5"/>
<line x1="124.23" y1="100.2" x2="124.23" y2="101.10000000000001" stroke="#555555" stroke-width="0.5"/>
<line x1="127.69" y1="100.2" x2="127.69" y2="101.10000000000001" stroke="#555555" stroke-width="0.5"/>
<line x1="130.69" y1="100.2" x2="130.69" y2="101.10000000000001" stroke="#555555" stroke-width="0.5"/>
<line x1="133.33" y1="100.2" x2="133.33" y2="101.10000000000001" stroke="#555555" stroke-width="0.5"/>
<line x1="151.26" y1="100.2" x2="151.26" y2="101.10000000000001" stroke="#555555" stroke-width="0.5"/>
<line x1="160.37" y1="100.2" x2="160.37" y2="101.10000000000001" stroke="#555555" stroke-width="0.5"/>
<line x1="166.83" y1="100.2" x2="166.83" y2="101.10000000000001" stroke="#555555" stroke-width="0.5"/>
<line x1="171.84" y1="100.2" x2="171.84" y2="101.10000000000001" stroke="#555555" stroke-width="0.5"/>
<line x1="175.93" y1="100.2" x2="175.93" y2="101.10000000000001" stroke="#555555" stroke-width="0.5"/>
<text transform="translate(103.6,117.3) scale(0.895,1)" class="lb" text-anchor="middle">granule size (μm)</text>
<text transform="translate(10.1,53.6) rotate(-90) scale(0.945,1)" class="yl" text-anchor="middle">volume fraction (-)</text>
<rect x="31.5" y="8.1" width="68.2" height="25.0" rx="1" fill="#fff" fill-opacity="0.8" stroke="#e6e6e6" stroke-width="0.4"/>
<line x1="33.1" y1="12.60" x2="44.9" y2="12.60" stroke="#2596db" stroke-width="1.3"/>
<circle cx="39.2" cy="12.60" r="0.9" fill="#2596db"/>
<text transform="translate(49.4,14.80) scale(0.823,1)" class="lg">Measurement</text>
<line x1="33.1" y1="20.50" x2="44.9" y2="20.50" stroke="#f2402a" stroke-width="1.3"/>
<circle cx="39.2" cy="20.50" r="0.9" fill="#f2402a"/>
<text transform="translate(49.4,22.70) scale(0.878,1)" class="lg">KME LOO prediction</text>
<line x1="33.1" y1="28.40" x2="44.9" y2="28.40" stroke="#7a7a7a" stroke-width="1.3"/>
<circle cx="39.2" cy="28.40" r="0.9" fill="#7a7a7a"/>
<text transform="translate(49.4,30.60) scale(0.864,1)" class="lg">PBM calibration</text>
<text transform="translate(32.9,53.20) scale(0.99,1)" class="an">L/S: 0.3</text>
<text transform="translate(32.9,59.85) scale(0.95,1)" class="an">MFR: 5 kg/h</text>
<text transform="translate(32.9,66.50) scale(0.888,1)" class="an">Screw speed: 900 rpm</text>
<text x="92.6" y="136.1" class="cp" text-anchor="middle">(c)</text>
</g>
<polyline points="211.40,236.90 213.02,236.90 217.38,236.90 221.74,236.90 226.10,236.90 230.46,236.90 234.82,236.90 239.18,236.90 243.54,236.90 247.90,236.90 252.26,236.40 256.62,235.30 260.98,233.70 265.34,231.10 269.70,227.20 274.06,221.50 278.42,211.20 282.78,203.00 287.14,197.70 291.50,196.40 295.86,200.30 300.22,205.20 304.58,210.10 308.94,212.90 313.30,215.00 317.66,215.90 322.02,215.60 326.38,210.70 330.74,203.00 335.10,215.20 339.46,194.90 343.82,188.40 348.18,236.10 352.54,236.70 356.90,236.70 361.26,236.70" fill="none" stroke="#2596db" stroke-width="1.35" stroke-linejoin="round"/>
<circle cx="213.02" cy="236.90" r="0.85" fill="#2596db"/>
<circle cx="217.38" cy="236.90" r="0.85" fill="#2596db"/>
<circle cx="221.74" cy="236.90" r="0.85" fill="#2596db"/>
<circle cx="226.10" cy="236.90" r="0.85" fill="#2596db"/>
<circle cx="230.46" cy="236.90" r="0.85" fill="#2596db"/>
<circle cx="234.82" cy="236.90" r="0.85" fill="#2596db"/>
<circle cx="239.18" cy="236.90" r="0.85" fill="#2596db"/>
<circle cx="243.54" cy="236.90" r="0.85" fill="#2596db"/>
<circle cx="247.90" cy="236.90" r="0.85" fill="#2596db"/>
<circle cx="252.26" cy="236.40" r="0.85" fill="#2596db"/>
<circle cx="256.62" cy="235.30" r="0.85" fill="#2596db"/>
<circle cx="260.98" cy="233.70" r="0.85" fill="#2596db"/>
<circle cx="265.34" cy="231.10" r="0.85" fill="#2596db"/>
<circle cx="269.70" cy="227.20" r="0.85" fill="#2596db"/>
<circle cx="274.06" cy="221.50" r="0.85" fill="#2596db"/>
<circle cx="278.42" cy="211.20" r="0.85" fill="#2596db"/>
<circle cx="282.78" cy="203.00" r="0.85" fill="#2596db"/>
<circle cx="287.14" cy="197.70" r="0.85" fill="#2596db"/>
<circle cx="291.50" cy="196.40" r="0.85" fill="#2596db"/>
<circle cx="295.86" cy="200.30" r="0.85" fill="#2596db"/>
<circle cx="300.22" cy="205.20" r="0.85" fill="#2596db"/>
<circle cx="304.58" cy="210.10" r="0.85" fill="#2596db"/>
<circle cx="308.94" cy="212.90" r="0.85" fill="#2596db"/>
<circle cx="313.30" cy="215.00" r="0.85" fill="#2596db"/>
<circle cx="317.66" cy="215.90" r="0.85" fill="#2596db"/>
<circle cx="322.02" cy="215.60" r="0.85" fill="#2596db"/>
<circle cx="326.38" cy="210.70" r="0.85" fill="#2596db"/>
<circle cx="330.74" cy="203.00" r="0.85" fill="#2596db"/>
<circle cx="335.10" cy="215.20" r="0.85" fill="#2596db"/>
<circle cx="339.46" cy="194.90" r="0.85" fill="#2596db"/>
<circle cx="343.82" cy="188.40" r="0.85" fill="#2596db"/>
<circle cx="348.18" cy="236.10" r="0.85" fill="#2596db"/>
<circle cx="352.54" cy="236.70" r="0.85" fill="#2596db"/>
<circle cx="356.90" cy="236.70" r="0.85" fill="#2596db"/>
<circle cx="361.26" cy="236.70" r="0.85" fill="#2596db"/>
<polyline points="211.40,234.20 213.02,235.20 217.38,236.20 221.74,236.90 226.10,236.90 230.46,236.90 234.82,236.90 239.18,236.90 243.54,236.90 247.90,236.90 252.26,236.70 256.62,235.90 260.98,234.20 265.34,232.90 269.70,229.10 274.06,224.10 278.42,216.50 282.78,209.00 287.14,204.10 291.50,202.30 295.86,203.50 300.22,207.40 304.58,211.20 308.94,213.40 313.30,214.80 317.66,214.20 322.02,213.40 326.38,208.70 330.74,208.00 335.10,198.30 339.46,183.40 343.82,189.80 348.18,226.50 352.54,236.60 356.90,236.40 361.26,236.40" fill="none" stroke="#f2402a" stroke-width="1.35" stroke-linejoin="round"/>
<circle cx="213.02" cy="235.20" r="0.85" fill="#f2402a"/>
<circle cx="217.38" cy="236.20" r="0.85" fill="#f2402a"/>
<circle cx="221.74" cy="236.90" r="0.85" fill="#f2402a"/>
<circle cx="226.10" cy="236.90" r="0.85" fill="#f2402a"/>
<circle cx="230.46" cy="236.90" r="0.85" fill="#f2402a"/>
<circle cx="234.82" cy="236.90" r="0.85" fill="#f2402a"/>
<circle cx="239.18" cy="236.90" r="0.85" fill="#f2402a"/>
<circle cx="243.54" cy="236.90" r="0.85" fill="#f2402a"/>
<circle cx="247.90" cy="236.90" r="0.85" fill="#f2402a"/>
<circle cx="252.26" cy="236.70" r="0.85" fill="#f2402a"/>
<circle cx="256.62" cy="235.90" r="0.85" fill="#f2402a"/>
<circle cx="260.98" cy="234.20" r="0.85" fill="#f2402a"/>
<circle cx="265.34" cy="232.90" r="0.85" fill="#f2402a"/>
<circle cx="269.70" cy="229.10" r="0.85" fill="#f2402a"/>
<circle cx="274.06" cy="224.10" r="0.85" fill="#f2402a"/>
<circle cx="278.42" cy="216.50" r="0.85" fill="#f2402a"/>
<circle cx="282.78" cy="209.00" r="0.85" fill="#f2402a"/>
<circle cx="287.14" cy="204.10" r="0.85" fill="#f2402a"/>
<circle cx="291.50" cy="202.30" r="0.85" fill="#f2402a"/>
<circle cx="295.86" cy="203.50" r="0.85" fill="#f2402a"/>
<circle cx="300.22" cy="207.40" r="0.85" fill="#f2402a"/>
<circle cx="304.58" cy="211.20" r="0.85" fill="#f2402a"/>
<circle cx="308.94" cy="213.40" r="0.85" fill="#f2402a"/>
<circle cx="313.30" cy="214.80" r="0.85" fill="#f2402a"/>
<circle cx="317.66" cy="214.20" r="0.85" fill="#f2402a"/>
<circle cx="322.02" cy="213.40" r="0.85" fill="#f2402a"/>
<circle cx="326.38" cy="208.70" r="0.85" fill="#f2402a"/>
<circle cx="330.74" cy="208.00" r="0.85" fill="#f2402a"/>
<circle cx="335.10" cy="198.30" r="0.85" fill="#f2402a"/>
<circle cx="339.46" cy="183.40" r="0.85" fill="#f2402a"/>
<circle cx="343.82" cy="189.80" r="0.85" fill="#f2402a"/>
<circle cx="348.18" cy="226.50" r="0.85" fill="#f2402a"/>
<circle cx="352.54" cy="236.60" r="0.85" fill="#f2402a"/>
<circle cx="356.90" cy="236.40" r="0.85" fill="#f2402a"/>
<circle cx="361.26" cy="236.40" r="0.85" fill="#f2402a"/>
<g transform="translate(183,136.7)">
<line x1="28.4" y1="5.6" x2="28.4" y2="100.60000000000001" stroke="#555555" stroke-width="0.8"/>
<line x1="28.0" y1="100.2" x2="178.2" y2="100.2" stroke="#555555" stroke-width="0.8"/>
<line x1="26.5" y1="100.20" x2="28.4" y2="100.20" stroke="#333" stroke-width="0.9"/>
<text x="23.3" y="102.10" class="tk" text-anchor="end">0</text>
<line x1="26.5" y1="74.05" x2="28.4" y2="74.05" stroke="#333" stroke-width="0.9"/>
<text x="23.3" y="75.95" class="tk" text-anchor="end">0.05</text>
<line x1="26.5" y1="47.90" x2="28.4" y2="47.90" stroke="#333" stroke-width="0.9"/>
<text x="23.3" y="49.80" class="tk" text-anchor="end">0.10</text>
<line x1="26.5" y1="21.75" x2="28.4" y2="21.75" stroke="#333" stroke-width="0.9"/>
<text x="23.3" y="23.65" class="tk" text-anchor="end">0.15</text>
<line x1="32.30" y1="100.2" x2="32.30" y2="102.0" stroke="#333" stroke-width="0.9"/>
<text x="32.40" y="109.50" class="tk" text-anchor="middle">10<tspan class="sup" dy="-1.8">1</tspan></text>
<line x1="84.00" y1="100.2" x2="84.00" y2="102.0" stroke="#333" stroke-width="0.9"/>
<text x="84.10" y="109.50" class="tk" text-anchor="middle">10<tspan class="sup" dy="-1.8">2</tspan></text>
<line x1="135.70" y1="100.2" x2="135.70" y2="102.0" stroke="#333" stroke-width="0.9"/>
<text x="135.80" y="109.50" class="tk" text-anchor="middle">10<tspan class="sup" dy="-1.8">3</tspan></text>
<line x1="29.93" y1="100.2" x2="29.93" y2="101.10000000000001" stroke="#555555" stroke-width="0.5"/>
<line x1="47.86" y1="100.2" x2="47.86" y2="101.10000000000001" stroke="#555555" stroke-width="0.5"/>
<line x1="56.97" y1="100.2" x2="56.97" y2="101.10000000000001" stroke="#555555" stroke-width="0.5"/>
<line x1="63.43" y1="100.2" x2="63.43" y2="101.10000000000001" stroke="#555555" stroke-width="0.5"/>
<line x1="68.44" y1="100.2" x2="68.44" y2="101.10000000000001" stroke="#555555" stroke-width="0.5"/>
<line x1="72.53" y1="100.2" x2="72.53" y2="101.10000000000001" stroke="#555555" stroke-width="0.5"/>
<line x1="75.99" y1="100.2" x2="75.99" y2="101.10000000000001" stroke="#555555" stroke-width="0.5"/>
<line x1="78.99" y1="100.2" x2="78.99" y2="101.10000000000001" stroke="#555555" stroke-width="0.5"/>
<line x1="81.63" y1="100.2" x2="81.63" y2="101.10000000000001" stroke="#555555" stroke-width="0.5"/>
<line x1="99.56" y1="100.2" x2="99.56" y2="101.10000000000001" stroke="#555555" stroke-width="0.5"/>
<line x1="108.67" y1="100.2" x2="108.67" y2="101.10000000000001" stroke="#555555" stroke-width="0.5"/>
<line x1="115.13" y1="100.2" x2="115.13" y2="101.10000000000001" stroke="#555555" stroke-width="0.5"/>
<line x1="120.14" y1="100.2" x2="120.14" y2="101.10000000000001" stroke="#555555" stroke-width="0.5"/>
<line x1="124.23" y1="100.2" x2="124.23" y2="101.10000000000001" stroke="#555555" stroke-width="0.5"/>
<line x1="127.69" y1="100.2" x2="127.69" y2="101.10000000000001" stroke="#555555" stroke-width="0.5"/>
<line x1="130.69" y1="100.2" x2="130.69" y2="101.10000000000001" stroke="#555555" stroke-width="0.5"/>
<line x1="133.33" y1="100.2" x2="133.33" y2="101.10000000000001" stroke="#555555" stroke-width="0.5"/>
<line x1="151.26" y1="100.2" x2="151.26" y2="101.10000000000001" stroke="#555555" stroke-width="0.5"/>
<line x1="160.37" y1="100.2" x2="160.37" y2="101.10000000000001" stroke="#555555" stroke-width="0.5"/>
<line x1="166.83" y1="100.2" x2="166.83" y2="101.10000000000001" stroke="#555555" stroke-width="0.5"/>
<line x1="171.84" y1="100.2" x2="171.84" y2="101.10000000000001" stroke="#555555" stroke-width="0.5"/>
<line x1="175.93" y1="100.2" x2="175.93" y2="101.10000000000001" stroke="#555555" stroke-width="0.5"/>
<text transform="translate(103.6,117.3) scale(0.895,1)" class="lb" text-anchor="middle">granule size (μm)</text>
<text transform="translate(10.1,53.6) rotate(-90) scale(0.945,1)" class="yl" text-anchor="middle">volume fraction (-)</text>
<rect x="31.5" y="8.1" width="68.2" height="17.1" rx="1" fill="#fff" fill-opacity="0.8" stroke="#e6e6e6" stroke-width="0.4"/>
<line x1="33.1" y1="12.60" x2="44.9" y2="12.60" stroke="#2596db" stroke-width="1.3"/>
<circle cx="39.2" cy="12.60" r="0.9" fill="#2596db"/>
<text transform="translate(49.4,14.80) scale(0.823,1)" class="lg">Measurement</text>
<line x1="33.1" y1="20.50" x2="44.9" y2="20.50" stroke="#f2402a" stroke-width="1.3"/>
<circle cx="39.2" cy="20.50" r="0.9" fill="#f2402a"/>
<text transform="translate(49.4,22.70) scale(0.878,1)" class="lg">KME LOO prediction</text>
<text transform="translate(32.9,53.20) scale(0.99,1)" class="an">L/S: 0.3</text>
<text transform="translate(32.9,59.85) scale(0.95,1)" class="an">MFR: 12.5 kg/h</text>
<text transform="translate(32.9,66.50) scale(0.888,1)" class="an">Screw speed: 450 rpm</text>
<text x="92.6" y="136.1" class="cp" text-anchor="middle">(d)</text>
</g>
<polyline points="28.40,373.60 30.02,373.60 34.38,373.60 38.74,373.60 43.10,373.60 47.46,373.60 51.82,373.60 56.18,373.60 60.54,373.60 64.90,373.60 69.26,373.30 73.62,372.80 77.98,371.90 82.34,369.30 86.70,367.40 91.06,362.80 95.42,355.70 99.78,348.00 104.14,341.00 108.50,337.70 112.86,337.70 117.22,342.10 121.58,347.00 125.94,350.90 130.30,352.80 134.66,353.60 139.02,355.00 143.38,351.40 147.74,346.50 152.10,338.40 156.46,318.10 160.82,310.20 165.18,362.60 169.54,373.10 173.90,373.30 178.26,373.30" fill="none" stroke="#2596db" stroke-width="1.35" stroke-linejoin="round"/>
<circle cx="30.02" cy="373.60" r="0.85" fill="#2596db"/>
<circle cx="34.38" cy="373.60" r="0.85" fill="#2596db"/>
<circle cx="38.74" cy="373.60" r="0.85" fill="#2596db"/>
<circle cx="43.10" cy="373.60" r="0.85" fill="#2596db"/>
<circle cx="47.46" cy="373.60" r="0.85" fill="#2596db"/>
<circle cx="51.82" cy="373.60" r="0.85" fill="#2596db"/>
<circle cx="56.18" cy="373.60" r="0.85" fill="#2596db"/>
<circle cx="60.54" cy="373.60" r="0.85" fill="#2596db"/>
<circle cx="64.90" cy="373.60" r="0.85" fill="#2596db"/>
<circle cx="69.26" cy="373.30" r="0.85" fill="#2596db"/>
<circle cx="73.62" cy="372.80" r="0.85" fill="#2596db"/>
<circle cx="77.98" cy="371.90" r="0.85" fill="#2596db"/>
<circle cx="82.34" cy="369.30" r="0.85" fill="#2596db"/>
<circle cx="86.70" cy="367.40" r="0.85" fill="#2596db"/>
<circle cx="91.06" cy="362.80" r="0.85" fill="#2596db"/>
<circle cx="95.42" cy="355.70" r="0.85" fill="#2596db"/>
<circle cx="99.78" cy="348.00" r="0.85" fill="#2596db"/>
<circle cx="104.14" cy="341.00" r="0.85" fill="#2596db"/>
<circle cx="108.50" cy="337.70" r="0.85" fill="#2596db"/>
<circle cx="112.86" cy="337.70" r="0.85" fill="#2596db"/>
<circle cx="117.22" cy="342.10" r="0.85" fill="#2596db"/>
<circle cx="121.58" cy="347.00" r="0.85" fill="#2596db"/>
<circle cx="125.94" cy="350.90" r="0.85" fill="#2596db"/>
<circle cx="130.30" cy="352.80" r="0.85" fill="#2596db"/>
<circle cx="134.66" cy="353.60" r="0.85" fill="#2596db"/>
<circle cx="139.02" cy="355.00" r="0.85" fill="#2596db"/>
<circle cx="143.38" cy="351.40" r="0.85" fill="#2596db"/>
<circle cx="147.74" cy="346.50" r="0.85" fill="#2596db"/>
<circle cx="152.10" cy="338.40" r="0.85" fill="#2596db"/>
<circle cx="156.46" cy="318.10" r="0.85" fill="#2596db"/>
<circle cx="160.82" cy="310.20" r="0.85" fill="#2596db"/>
<circle cx="165.18" cy="362.60" r="0.85" fill="#2596db"/>
<circle cx="169.54" cy="373.10" r="0.85" fill="#2596db"/>
<circle cx="173.90" cy="373.30" r="0.85" fill="#2596db"/>
<circle cx="178.26" cy="373.30" r="0.85" fill="#2596db"/>
<polyline points="28.40,373.60 30.02,373.60 34.38,373.60 38.74,373.60 43.10,373.60 47.46,373.60 51.82,373.60 56.18,373.60 60.54,373.60 64.90,373.60 69.26,373.30 73.62,373.30 77.98,372.80 82.34,370.40 86.70,366.90 91.06,361.80 95.42,354.30 99.78,346.50 104.14,339.40 108.50,336.10 112.86,336.80 117.22,341.00 121.58,345.40 125.94,348.70 130.30,350.60 134.66,350.60 139.02,348.70 143.38,344.30 147.74,340.70 152.10,335.80 156.46,325.90 160.82,338.40 165.18,367.20 169.54,372.80 173.90,373.10 178.26,372.80" fill="none" stroke="#f2402a" stroke-width="1.35" stroke-linejoin="round"/>
<circle cx="30.02" cy="373.60" r="0.85" fill="#f2402a"/>
<circle cx="34.38" cy="373.60" r="0.85" fill="#f2402a"/>
<circle cx="38.74" cy="373.60" r="0.85" fill="#f2402a"/>
<circle cx="43.10" cy="373.60" r="0.85" fill="#f2402a"/>
<circle cx="47.46" cy="373.60" r="0.85" fill="#f2402a"/>
<circle cx="51.82" cy="373.60" r="0.85" fill="#f2402a"/>
<circle cx="56.18" cy="373.60" r="0.85" fill="#f2402a"/>
<circle cx="60.54" cy="373.60" r="0.85" fill="#f2402a"/>
<circle cx="64.90" cy="373.60" r="0.85" fill="#f2402a"/>
<circle cx="69.26" cy="373.30" r="0.85" fill="#f2402a"/>
<circle cx="73.62" cy="373.30" r="0.85" fill="#f2402a"/>
<circle cx="77.98" cy="372.80" r="0.85" fill="#f2402a"/>
<circle cx="82.34" cy="370.40" r="0.85" fill="#f2402a"/>
<circle cx="86.70" cy="366.90" r="0.85" fill="#f2402a"/>
<circle cx="91.06" cy="361.80" r="0.85" fill="#f2402a"/>
<circle cx="95.42" cy="354.30" r="0.85" fill="#f2402a"/>
<circle cx="99.78" cy="346.50" r="0.85" fill="#f2402a"/>
<circle cx="104.14" cy="339.40" r="0.85" fill="#f2402a"/>
<circle cx="108.50" cy="336.10" r="0.85" fill="#f2402a"/>
<circle cx="112.86" cy="336.80" r="0.85" fill="#f2402a"/>
<circle cx="117.22" cy="341.00" r="0.85" fill="#f2402a"/>
<circle cx="121.58" cy="345.40" r="0.85" fill="#f2402a"/>
<circle cx="125.94" cy="348.70" r="0.85" fill="#f2402a"/>
<circle cx="130.30" cy="350.60" r="0.85" fill="#f2402a"/>
<circle cx="134.66" cy="350.60" r="0.85" fill="#f2402a"/>
<circle cx="139.02" cy="348.70" r="0.85" fill="#f2402a"/>
<circle cx="143.38" cy="344.30" r="0.85" fill="#f2402a"/>
<circle cx="147.74" cy="340.70" r="0.85" fill="#f2402a"/>
<circle cx="152.10" cy="335.80" r="0.85" fill="#f2402a"/>
<circle cx="156.46" cy="325.90" r="0.85" fill="#f2402a"/>
<circle cx="160.82" cy="338.40" r="0.85" fill="#f2402a"/>
<circle cx="165.18" cy="367.20" r="0.85" fill="#f2402a"/>
<circle cx="169.54" cy="372.80" r="0.85" fill="#f2402a"/>
<circle cx="173.90" cy="373.10" r="0.85" fill="#f2402a"/>
<circle cx="178.26" cy="372.80" r="0.85" fill="#f2402a"/>
<g transform="translate(0,273.4)">
<line x1="28.4" y1="5.6" x2="28.4" y2="100.60000000000001" stroke="#555555" stroke-width="0.8"/>
<line x1="28.0" y1="100.2" x2="178.2" y2="100.2" stroke="#555555" stroke-width="0.8"/>
<line x1="26.5" y1="100.20" x2="28.4" y2="100.20" stroke="#333" stroke-width="0.9"/>
<text x="23.3" y="102.10" class="tk" text-anchor="end">0</text>
<line x1="26.5" y1="74.05" x2="28.4" y2="74.05" stroke="#333" stroke-width="0.9"/>
<text x="23.3" y="75.95" class="tk" text-anchor="end">0.05</text>
<line x1="26.5" y1="47.90" x2="28.4" y2="47.90" stroke="#333" stroke-width="0.9"/>
<text x="23.3" y="49.80" class="tk" text-anchor="end">0.10</text>
<line x1="26.5" y1="21.75" x2="28.4" y2="21.75" stroke="#333" stroke-width="0.9"/>
<text x="23.3" y="23.65" class="tk" text-anchor="end">0.15</text>
<line x1="32.30" y1="100.2" x2="32.30" y2="102.0" stroke="#333" stroke-width="0.9"/>
<text x="32.40" y="109.50" class="tk" text-anchor="middle">10<tspan class="sup" dy="-1.8">1</tspan></text>
<line x1="84.00" y1="100.2" x2="84.00" y2="102.0" stroke="#333" stroke-width="0.9"/>
<text x="84.10" y="109.50" class="tk" text-anchor="middle">10<tspan class="sup" dy="-1.8">2</tspan></text>
<line x1="135.70" y1="100.2" x2="135.70" y2="102.0" stroke="#333" stroke-width="0.9"/>
<text x="135.80" y="109.50" class="tk" text-anchor="middle">10<tspan class="sup" dy="-1.8">3</tspan></text>
<line x1="29.93" y1="100.2" x2="29.93" y2="101.10000000000001" stroke="#555555" stroke-width="0.5"/>
<line x1="47.86" y1="100.2" x2="47.86" y2="101.10000000000001" stroke="#555555" stroke-width="0.5"/>
<line x1="56.97" y1="100.2" x2="56.97" y2="101.10000000000001" stroke="#555555" stroke-width="0.5"/>
<line x1="63.43" y1="100.2" x2="63.43" y2="101.10000000000001" stroke="#555555" stroke-width="0.5"/>
<line x1="68.44" y1="100.2" x2="68.44" y2="101.10000000000001" stroke="#555555" stroke-width="0.5"/>
<line x1="72.53" y1="100.2" x2="72.53" y2="101.10000000000001" stroke="#555555" stroke-width="0.5"/>
<line x1="75.99" y1="100.2" x2="75.99" y2="101.10000000000001" stroke="#555555" stroke-width="0.5"/>
<line x1="78.99" y1="100.2" x2="78.99" y2="101.10000000000001" stroke="#555555" stroke-width="0.5"/>
<line x1="81.63" y1="100.2" x2="81.63" y2="101.10000000000001" stroke="#555555" stroke-width="0.5"/>
<line x1="99.56" y1="100.2" x2="99.56" y2="101.10000000000001" stroke="#555555" stroke-width="0.5"/>
<line x1="108.67" y1="100.2" x2="108.67" y2="101.10000000000001" stroke="#555555" stroke-width="0.5"/>
<line x1="115.13" y1="100.2" x2="115.13" y2="101.10000000000001" stroke="#555555" stroke-width="0.5"/>
<line x1="120.14" y1="100.2" x2="120.14" y2="101.10000000000001" stroke="#555555" stroke-width="0.5"/>
<line x1="124.23" y1="100.2" x2="124.23" y2="101.10000000000001" stroke="#555555" stroke-width="0.5"/>
<line x1="127.69" y1="100.2" x2="127.69" y2="101.10000000000001" stroke="#555555" stroke-width="0.5"/>
<line x1="130.69" y1="100.2" x2="130.69" y2="101.10000000000001" stroke="#555555" stroke-width="0.5"/>
<line x1="133.33" y1="100.2" x2="133.33" y2="101.10000000000001" stroke="#555555" stroke-width="0.5"/>
<line x1="151.26" y1="100.2" x2="151.26" y2="101.10000000000001" stroke="#555555" stroke-width="0.5"/>
<line x1="160.37" y1="100.2" x2="160.37" y2="101.10000000000001" stroke="#555555" stroke-width="0.5"/>
<line x1="166.83" y1="100.2" x2="166.83" y2="101.10000000000001" stroke="#555555" stroke-width="0.5"/>
<line x1="171.84" y1="100.2" x2="171.84" y2="101.10000000000001" stroke="#555555" stroke-width="0.5"/>
<line x1="175.93" y1="100.2" x2="175.93" y2="101.10000000000001" stroke="#555555" stroke-width="0.5"/>
<text transform="translate(103.6,117.3) scale(0.895,1)" class="lb" text-anchor="middle">granule size (μm)</text>
<text transform="translate(10.1,53.6) rotate(-90) scale(0.945,1)" class="yl" text-anchor="middle">volume fraction (-)</text>
<rect x="31.5" y="8.1" width="68.2" height="17.1" rx="1" fill="#fff" fill-opacity="0.8" stroke="#e6e6e6" stroke-width="0.4"/>
<line x1="33.1" y1="12.60" x2="44.9" y2="12.60" stroke="#2596db" stroke-width="1.3"/>
<circle cx="39.2" cy="12.60" r="0.9" fill="#2596db"/>
<text transform="translate(49.4,14.80) scale(0.823,1)" class="lg">Measurement</text>
<line x1="33.1" y1="20.50" x2="44.9" y2="20.50" stroke="#f2402a" stroke-width="1.3"/>
<circle cx="39.2" cy="20.50" r="0.9" fill="#f2402a"/>
<text transform="translate(49.4,22.70) scale(0.878,1)" class="lg">KME LOO prediction</text>
<text transform="translate(32.9,53.20) scale(0.99,1)" class="an">L/S: 0.3</text>
<text transform="translate(32.9,59.85) scale(0.95,1)" class="an">MFR: 12.5 kg/h</text>
<text transform="translate(32.9,66.50) scale(0.888,1)" class="an">Screw speed: 675 rpm</text>
<text x="92.6" y="136.1" class="cp" text-anchor="middle">(e)</text>
</g>
<polyline points="211.40,373.60 213.02,373.60 217.38,373.60 221.74,373.60 226.10,373.60 230.46,373.60 234.82,373.60 239.18,373.60 243.54,373.60 247.90,373.60 252.26,373.60 256.62,373.30 260.98,372.50 265.34,370.90 269.70,368.30 274.06,364.40 278.42,356.80 282.78,348.20 287.14,341.00 291.50,337.70 295.86,339.90 300.22,344.30 304.58,347.60 308.94,349.20 313.30,350.00 317.66,351.40 322.02,344.30 326.38,341.50 330.74,333.50 335.10,333.10 339.46,321.60 343.82,340.50 348.18,363.60 352.54,373.30 356.90,373.10 361.26,373.10" fill="none" stroke="#2596db" stroke-width="1.35" stroke-linejoin="round"/>
<circle cx="213.02" cy="373.60" r="0.85" fill="#2596db"/>
<circle cx="217.38" cy="373.60" r="0.85" fill="#2596db"/>
<circle cx="221.74" cy="373.60" r="0.85" fill="#2596db"/>
<circle cx="226.10" cy="373.60" r="0.85" fill="#2596db"/>
<circle cx="230.46" cy="373.60" r="0.85" fill="#2596db"/>
<circle cx="234.82" cy="373.60" r="0.85" fill="#2596db"/>
<circle cx="239.18" cy="373.60" r="0.85" fill="#2596db"/>
<circle cx="243.54" cy="373.60" r="0.85" fill="#2596db"/>
<circle cx="247.90" cy="373.60" r="0.85" fill="#2596db"/>
<circle cx="252.26" cy="373.60" r="0.85" fill="#2596db"/>
<circle cx="256.62" cy="373.30" r="0.85" fill="#2596db"/>
<circle cx="260.98" cy="372.50" r="0.85" fill="#2596db"/>
<circle cx="265.34" cy="370.90" r="0.85" fill="#2596db"/>
<circle cx="269.70" cy="368.30" r="0.85" fill="#2596db"/>
<circle cx="274.06" cy="364.40" r="0.85" fill="#2596db"/>
<circle cx="278.42" cy="356.80" r="0.85" fill="#2596db"/>
<circle cx="282.78" cy="348.20" r="0.85" fill="#2596db"/>
<circle cx="287.14" cy="341.00" r="0.85" fill="#2596db"/>
<circle cx="291.50" cy="337.70" r="0.85" fill="#2596db"/>
<circle cx="295.86" cy="339.90" r="0.85" fill="#2596db"/>
<circle cx="300.22" cy="344.30" r="0.85" fill="#2596db"/>
<circle cx="304.58" cy="347.60" r="0.85" fill="#2596db"/>
<circle cx="308.94" cy="349.20" r="0.85" fill="#2596db"/>
<circle cx="313.30" cy="350.00" r="0.85" fill="#2596db"/>
<circle cx="317.66" cy="351.40" r="0.85" fill="#2596db"/>
<circle cx="322.02" cy="344.30" r="0.85" fill="#2596db"/>
<circle cx="326.38" cy="341.50" r="0.85" fill="#2596db"/>
<circle cx="330.74" cy="333.50" r="0.85" fill="#2596db"/>
<circle cx="335.10" cy="333.10" r="0.85" fill="#2596db"/>
<circle cx="339.46" cy="321.60" r="0.85" fill="#2596db"/>
<circle cx="343.82" cy="340.50" r="0.85" fill="#2596db"/>
<circle cx="348.18" cy="363.60" r="0.85" fill="#2596db"/>
<circle cx="352.54" cy="373.30" r="0.85" fill="#2596db"/>
<circle cx="356.90" cy="373.10" r="0.85" fill="#2596db"/>
<circle cx="361.26" cy="373.10" r="0.85" fill="#2596db"/>
<polyline points="211.40,370.80 213.02,371.80 217.38,373.00 221.74,373.60 226.10,373.60 230.46,373.60 234.82,373.60 239.18,373.60 243.54,373.60 247.90,373.60 252.26,373.60 256.62,373.30 260.98,372.50 265.34,370.90 269.70,368.40 274.06,364.70 278.42,358.60 282.78,351.30 287.14,344.70 291.50,339.40 295.86,338.30 300.22,341.00 304.58,345.40 308.94,348.10 313.30,350.00 317.66,351.10 322.02,349.20 326.38,344.30 330.74,339.30 335.10,335.60 339.46,322.20 343.82,336.20 348.18,357.50 352.54,373.30 356.90,372.70 361.26,373.30" fill="none" stroke="#f2402a" stroke-width="1.35" stroke-linejoin="round"/>
<circle cx="213.02" cy="371.80" r="0.85" fill="#f2402a"/>
<circle cx="217.38" cy="373.00" r="0.85" fill="#f2402a"/>
<circle cx="221.74" cy="373.60" r="0.85" fill="#f2402a"/>
<circle cx="226.10" cy="373.60" r="0.85" fill="#f2402a"/>
<circle cx="230.46" cy="373.60" r="0.85" fill="#f2402a"/>
<circle cx="234.82" cy="373.60" r="0.85" fill="#f2402a"/>
<circle cx="239.18" cy="373.60" r="0.85" fill="#f2402a"/>
<circle cx="243.54" cy="373.60" r="0.85" fill="#f2402a"/>
<circle cx="247.90" cy="373.60" r="0.85" fill="#f2402a"/>
<circle cx="252.26" cy="373.60" r="0.85" fill="#f2402a"/>
<circle cx="256.62" cy="373.30" r="0.85" fill="#f2402a"/>
<circle cx="260.98" cy="372.50" r="0.85" fill="#f2402a"/>
<circle cx="265.34" cy="370.90" r="0.85" fill="#f2402a"/>
<circle cx="269.70" cy="368.40" r="0.85" fill="#f2402a"/>
<circle cx="274.06" cy="364.70" r="0.85" fill="#f2402a"/>
<circle cx="278.42" cy="358.60" r="0.85" fill="#f2402a"/>
<circle cx="282.78" cy="351.30" r="0.85" fill="#f2402a"/>
<circle cx="287.14" cy="344.70" r="0.85" fill="#f2402a"/>
<circle cx="291.50" cy="339.40" r="0.85" fill="#f2402a"/>
<circle cx="295.86" cy="338.30" r="0.85" fill="#f2402a"/>
<circle cx="300.22" cy="341.00" r="0.85" fill="#f2402a"/>
<circle cx="304.58" cy="345.40" r="0.85" fill="#f2402a"/>
<circle cx="308.94" cy="348.10" r="0.85" fill="#f2402a"/>
<circle cx="313.30" cy="350.00" r="0.85" fill="#f2402a"/>
<circle cx="317.66" cy="351.10" r="0.85" fill="#f2402a"/>
<circle cx="322.02" cy="349.20" r="0.85" fill="#f2402a"/>
<circle cx="326.38" cy="344.30" r="0.85" fill="#f2402a"/>
<circle cx="330.74" cy="339.30" r="0.85" fill="#f2402a"/>
<circle cx="335.10" cy="335.60" r="0.85" fill="#f2402a"/>
<circle cx="339.46" cy="322.20" r="0.85" fill="#f2402a"/>
<circle cx="343.82" cy="336.20" r="0.85" fill="#f2402a"/>
<circle cx="348.18" cy="357.50" r="0.85" fill="#f2402a"/>
<circle cx="352.54" cy="373.30" r="0.85" fill="#f2402a"/>
<circle cx="356.90" cy="372.70" r="0.85" fill="#f2402a"/>
<circle cx="361.26" cy="373.30" r="0.85" fill="#f2402a"/>
<g transform="translate(183,273.4)">
<line x1="28.4" y1="5.6" x2="28.4" y2="100.60000000000001" stroke="#555555" stroke-width="0.8"/>
<line x1="28.0" y1="100.2" x2="178.2" y2="100.2" stroke="#555555" stroke-width="0.8"/>
<line x1="26.5" y1="100.20" x2="28.4" y2="100.20" stroke="#333" stroke-width="0.9"/>
<text x="23.3" y="102.10" class="tk" text-anchor="end">0</text>
<line x1="26.5" y1="74.05" x2="28.4" y2="74.05" stroke="#333" stroke-width="0.9"/>
<text x="23.3" y="75.95" class="tk" text-anchor="end">0.05</text>
<line x1="26.5" y1="47.90" x2="28.4" y2="47.90" stroke="#333" stroke-width="0.9"/>
<text x="23.3" y="49.80" class="tk" text-anchor="end">0.10</text>
<line x1="26.5" y1="21.75" x2="28.4" y2="21.75" stroke="#333" stroke-width="0.9"/>
<text x="23.3" y="23.65" class="tk" text-anchor="end">0.15</text>
<line x1="32.30" y1="100.2" x2="32.30" y2="102.0" stroke="#333" stroke-width="0.9"/>
<text x="32.40" y="109.50" class="tk" text-anchor="middle">10<tspan class="sup" dy="-1.8">1</tspan></text>
<line x1="84.00" y1="100.2" x2="84.00" y2="102.0" stroke="#333" stroke-width="0.9"/>
<text x="84.10" y="109.50" class="tk" text-anchor="middle">10<tspan class="sup" dy="-1.8">2</tspan></text>
<line x1="135.70" y1="100.2" x2="135.70" y2="102.0" stroke="#333" stroke-width="0.9"/>
<text x="135.80" y="109.50" class="tk" text-anchor="middle">10<tspan class="sup" dy="-1.8">3</tspan></text>
<line x1="29.93" y1="100.2" x2="29.93" y2="101.10000000000001" stroke="#555555" stroke-width="0.5"/>
<line x1="47.86" y1="100.2" x2="47.86" y2="101.10000000000001" stroke="#555555" stroke-width="0.5"/>
<line x1="56.97" y1="100.2" x2="56.97" y2="101.10000000000001" stroke="#555555" stroke-width="0.5"/>
<line x1="63.43" y1="100.2" x2="63.43" y2="101.10000000000001" stroke="#555555" stroke-width="0.5"/>
<line x1="68.44" y1="100.2" x2="68.44" y2="101.10000000000001" stroke="#555555" stroke-width="0.5"/>
<line x1="72.53" y1="100.2" x2="72.53" y2="101.10000000000001" stroke="#555555" stroke-width="0.5"/>
<line x1="75.99" y1="100.2" x2="75.99" y2="101.10000000000001" stroke="#555555" stroke-width="0.5"/>
<line x1="78.99" y1="100.2" x2="78.99" y2="101.10000000000001" stroke="#555555" stroke-width="0.5"/>
<line x1="81.63" y1="100.2" x2="81.63" y2="101.10000000000001" stroke="#555555" stroke-width="0.5"/>
<line x1="99.56" y1="100.2" x2="99.56" y2="101.10000000000001" stroke="#555555" stroke-width="0.5"/>
<line x1="108.67" y1="100.2" x2="108.67" y2="101.10000000000001" stroke="#555555" stroke-width="0.5"/>
<line x1="115.13" y1="100.2" x2="115.13" y2="101.10000000000001" stroke="#555555" stroke-width="0.5"/>
<line x1="120.14" y1="100.2" x2="120.14" y2="101.10000000000001" stroke="#555555" stroke-width="0.5"/>
<line x1="124.23" y1="100.2" x2="124.23" y2="101.10000000000001" stroke="#555555" stroke-width="0.5"/>
<line x1="127.69" y1="100.2" x2="127.69" y2="101.10000000000001" stroke="#555555" stroke-width="0.5"/>
<line x1="130.69" y1="100.2" x2="130.69" y2="101.10000000000001" stroke="#555555" stroke-width="0.5"/>
<line x1="133.33" y1="100.2" x2="133.33" y2="101.10000000000001" stroke="#555555" stroke-width="0.5"/>
<line x1="151.26" y1="100.2" x2="151.26" y2="101.10000000000001" stroke="#555555" stroke-width="0.5"/>
<line x1="160.37" y1="100.2" x2="160.37" y2="101.10000000000001" stroke="#555555" stroke-width="0.5"/>
<line x1="166.83" y1="100.2" x2="166.83" y2="101.10000000000001" stroke="#555555" stroke-width="0.5"/>
<line x1="171.84" y1="100.2" x2="171.84" y2="101.10000000000001" stroke="#555555" stroke-width="0.5"/>
<line x1="175.93" y1="100.2" x2="175.93" y2="101.10000000000001" stroke="#555555" stroke-width="0.5"/>
<text transform="translate(103.6,117.3) scale(0.895,1)" class="lb" text-anchor="middle">granule size (μm)</text>
<text transform="translate(10.1,53.6) rotate(-90) scale(0.945,1)" class="yl" text-anchor="middle">volume fraction (-)</text>
<rect x="31.5" y="8.1" width="68.2" height="17.1" rx="1" fill="#fff" fill-opacity="0.8" stroke="#e6e6e6" stroke-width="0.4"/>
<line x1="33.1" y1="12.60" x2="44.9" y2="12.60" stroke="#2596db" stroke-width="1.3"/>
<circle cx="39.2" cy="12.60" r="0.9" fill="#2596db"/>
<text transform="translate(49.4,14.80) scale(0.823,1)" class="lg">Measurement</text>
<line x1="33.1" y1="20.50" x2="44.9" y2="20.50" stroke="#f2402a" stroke-width="1.3"/>
<circle cx="39.2" cy="20.50" r="0.9" fill="#f2402a"/>
<text transform="translate(49.4,22.70) scale(0.878,1)" class="lg">KME LOO prediction</text>
<text transform="translate(32.9,53.20) scale(0.99,1)" class="an">L/S: 0.3</text>
<text transform="translate(32.9,59.85) scale(0.95,1)" class="an">MFR: 12.5 kg/h</text>
<text transform="translate(32.9,66.50) scale(0.888,1)" class="an">Screw speed: 900 rpm</text>
<text x="92.6" y="136.1" class="cp" text-anchor="middle">(f)</text>
</g>
<polyline points="28.40,510.30 30.02,510.30 34.38,510.30 38.74,510.30 43.10,510.30 47.46,510.30 51.82,510.30 56.18,510.30 60.54,510.30 64.90,510.30 69.26,510.00 73.62,509.50 77.98,508.10 82.34,506.00 86.70,502.50 91.06,497.20 95.42,488.90 99.78,483.50 104.14,478.90 108.50,480.90 112.86,487.30 117.22,491.10 121.58,493.30 125.94,493.90 130.30,492.80 134.66,491.70 139.02,487.90 143.38,482.40 147.74,481.00 152.10,466.20 156.46,447.90 160.82,444.60 165.18,486.50 169.54,509.40 173.90,509.60 178.26,509.60" fill="none" stroke="#2596db" stroke-width="1.35" stroke-linejoin="round"/>
<circle cx="30.02" cy="510.30" r="0.85" fill="#2596db"/>
<circle cx="34.38" cy="510.30" r="0.85" fill="#2596db"/>
<circle cx="38.74" cy="510.30" r="0.85" fill="#2596db"/>
<circle cx="43.10" cy="510.30" r="0.85" fill="#2596db"/>
<circle cx="47.46" cy="510.30" r="0.85" fill="#2596db"/>
<circle cx="51.82" cy="510.30" r="0.85" fill="#2596db"/>
<circle cx="56.18" cy="510.30" r="0.85" fill="#2596db"/>
<circle cx="60.54" cy="510.30" r="0.85" fill="#2596db"/>
<circle cx="64.90" cy="510.30" r="0.85" fill="#2596db"/>
<circle cx="69.26" cy="510.00" r="0.85" fill="#2596db"/>
<circle cx="73.62" cy="509.50" r="0.85" fill="#2596db"/>
<circle cx="77.98" cy="508.10" r="0.85" fill="#2596db"/>
<circle cx="82.34" cy="506.00" r="0.85" fill="#2596db"/>
<circle cx="86.70" cy="502.50" r="0.85" fill="#2596db"/>
<circle cx="91.06" cy="497.20" r="0.85" fill="#2596db"/>
<circle cx="95.42" cy="488.90" r="0.85" fill="#2596db"/>
<circle cx="99.78" cy="483.50" r="0.85" fill="#2596db"/>
<circle cx="104.14" cy="478.90" r="0.85" fill="#2596db"/>
<circle cx="108.50" cy="480.90" r="0.85" fill="#2596db"/>
<circle cx="112.86" cy="487.30" r="0.85" fill="#2596db"/>
<circle cx="117.22" cy="491.10" r="0.85" fill="#2596db"/>
<circle cx="121.58" cy="493.30" r="0.85" fill="#2596db"/>
<circle cx="125.94" cy="493.90" r="0.85" fill="#2596db"/>
<circle cx="130.30" cy="492.80" r="0.85" fill="#2596db"/>
<circle cx="134.66" cy="491.70" r="0.85" fill="#2596db"/>
<circle cx="139.02" cy="487.90" r="0.85" fill="#2596db"/>
<circle cx="143.38" cy="482.40" r="0.85" fill="#2596db"/>
<circle cx="147.74" cy="481.00" r="0.85" fill="#2596db"/>
<circle cx="152.10" cy="466.20" r="0.85" fill="#2596db"/>
<circle cx="156.46" cy="447.90" r="0.85" fill="#2596db"/>
<circle cx="160.82" cy="444.60" r="0.85" fill="#2596db"/>
<circle cx="165.18" cy="486.50" r="0.85" fill="#2596db"/>
<circle cx="169.54" cy="509.40" r="0.85" fill="#2596db"/>
<circle cx="173.90" cy="509.60" r="0.85" fill="#2596db"/>
<circle cx="178.26" cy="509.60" r="0.85" fill="#2596db"/>
<polyline points="28.40,501.90 30.02,503.30 34.38,507.00 38.74,509.30 43.10,510.10 47.46,510.30 51.82,510.30 56.18,510.30 60.54,510.30 64.90,510.30 69.26,510.00 73.62,509.50 77.98,508.50 82.34,506.90 86.70,504.00 91.06,499.00 95.42,491.60 99.78,483.00 104.14,474.80 108.50,472.50 112.86,474.70 117.22,480.20 121.58,486.20 125.94,489.50 130.30,489.80 134.66,490.00 139.02,489.00 143.38,484.00 147.74,485.70 152.10,487.80 156.46,475.30 160.82,459.60 165.18,504.10 169.54,495.00 173.90,501.50 178.26,503.50" fill="none" stroke="#f2402a" stroke-width="1.35" stroke-linejoin="round"/>
<circle cx="30.02" cy="503.30" r="0.85" fill="#f2402a"/>
<circle cx="34.38" cy="507.00" r="0.85" fill="#f2402a"/>
<circle cx="38.74" cy="509.30" r="0.85" fill="#f2402a"/>
<circle cx="43.10" cy="510.10" r="0.85" fill="#f2402a"/>
<circle cx="47.46" cy="510.30" r="0.85" fill="#f2402a"/>
<circle cx="51.82" cy="510.30" r="0.85" fill="#f2402a"/>
<circle cx="56.18" cy="510.30" r="0.85" fill="#f2402a"/>
<circle cx="60.54" cy="510.30" r="0.85" fill="#f2402a"/>
<circle cx="64.90" cy="510.30" r="0.85" fill="#f2402a"/>
<circle cx="69.26" cy="510.00" r="0.85" fill="#f2402a"/>
<circle cx="73.62" cy="509.50" r="0.85" fill="#f2402a"/>
<circle cx="77.98" cy="508.50" r="0.85" fill="#f2402a"/>
<circle cx="82.34" cy="506.90" r="0.85" fill="#f2402a"/>
<circle cx="86.70" cy="504.00" r="0.85" fill="#f2402a"/>
<circle cx="91.06" cy="499.00" r="0.85" fill="#f2402a"/>
<circle cx="95.42" cy="491.60" r="0.85" fill="#f2402a"/>
<circle cx="99.78" cy="483.00" r="0.85" fill="#f2402a"/>
<circle cx="104.14" cy="474.80" r="0.85" fill="#f2402a"/>
<circle cx="108.50" cy="472.50" r="0.85" fill="#f2402a"/>
<circle cx="112.86" cy="474.70" r="0.85" fill="#f2402a"/>
<circle cx="117.22" cy="480.20" r="0.85" fill="#f2402a"/>
<circle cx="121.58" cy="486.20" r="0.85" fill="#f2402a"/>
<circle cx="125.94" cy="489.50" r="0.85" fill="#f2402a"/>
<circle cx="130.30" cy="489.80" r="0.85" fill="#f2402a"/>
<circle cx="134.66" cy="490.00" r="0.85" fill="#f2402a"/>
<circle cx="139.02" cy="489.00" r="0.85" fill="#f2402a"/>
<circle cx="143.38" cy="484.00" r="0.85" fill="#f2402a"/>
<circle cx="147.74" cy="485.70" r="0.85" fill="#f2402a"/>
<circle cx="152.10" cy="487.80" r="0.85" fill="#f2402a"/>
<circle cx="156.46" cy="475.30" r="0.85" fill="#f2402a"/>
<circle cx="160.82" cy="459.60" r="0.85" fill="#f2402a"/>
<circle cx="165.18" cy="504.10" r="0.85" fill="#f2402a"/>
<circle cx="169.54" cy="495.00" r="0.85" fill="#f2402a"/>
<circle cx="173.90" cy="501.50" r="0.85" fill="#f2402a"/>
<circle cx="178.26" cy="503.50" r="0.85" fill="#f2402a"/>
<polyline points="28.40,510.30 30.02,510.30 34.38,510.30 38.74,510.30 43.10,510.30 47.46,510.30 51.82,510.30 56.18,510.30 60.54,510.30 64.90,510.30 69.26,510.30 73.62,509.80 77.98,508.90 82.34,507.50 86.70,505.30 91.06,501.20 95.42,493.70 99.78,478.10 104.14,474.20 108.50,482.00 112.86,489.50 117.22,490.60 121.58,491.70 125.94,493.30 130.30,496.10 134.66,496.10 139.02,490.00 143.38,482.40 147.74,474.90 152.10,468.10 156.46,463.80 160.82,467.50 165.18,478.00 169.54,491.00 173.90,501.50 178.26,508.10" fill="none" stroke="#7a7a7a" stroke-width="1.35" stroke-linejoin="round"/>
<circle cx="30.02" cy="510.30" r="0.85" fill="#7a7a7a"/>
<circle cx="34.38" cy="510.30" r="0.85" fill="#7a7a7a"/>
<circle cx="38.74" cy="510.30" r="0.85" fill="#7a7a7a"/>
<circle cx="43.10" cy="510.30" r="0.85" fill="#7a7a7a"/>
<circle cx="47.46" cy="510.30" r="0.85" fill="#7a7a7a"/>
<circle cx="51.82" cy="510.30" r="0.85" fill="#7a7a7a"/>
<circle cx="56.18" cy="510.30" r="0.85" fill="#7a7a7a"/>
<circle cx="60.54" cy="510.30" r="0.85" fill="#7a7a7a"/>
<circle cx="64.90" cy="510.30" r="0.85" fill="#7a7a7a"/>
<circle cx="69.26" cy="510.30" r="0.85" fill="#7a7a7a"/>
<circle cx="73.62" cy="509.80" r="0.85" fill="#7a7a7a"/>
<circle cx="77.98" cy="508.90" r="0.85" fill="#7a7a7a"/>
<circle cx="82.34" cy="507.50" r="0.85" fill="#7a7a7a"/>
<circle cx="86.70" cy="505.30" r="0.85" fill="#7a7a7a"/>
<circle cx="91.06" cy="501.20" r="0.85" fill="#7a7a7a"/>
<circle cx="95.42" cy="493.70" r="0.85" fill="#7a7a7a"/>
<circle cx="99.78" cy="478.10" r="0.85" fill="#7a7a7a"/>
<circle cx="104.14" cy="474.20" r="0.85" fill="#7a7a7a"/>
<circle cx="108.50" cy="482.00" r="0.85" fill="#7a7a7a"/>
<circle cx="112.86" cy="489.50" r="0.85" fill="#7a7a7a"/>
<circle cx="117.22" cy="490.60" r="0.85" fill="#7a7a7a"/>
<circle cx="121.58" cy="491.70" r="0.85" fill="#7a7a7a"/>
<circle cx="125.94" cy="493.30" r="0.85" fill="#7a7a7a"/>
<circle cx="130.30" cy="496.10" r="0.85" fill="#7a7a7a"/>
<circle cx="134.66" cy="496.10" r="0.85" fill="#7a7a7a"/>
<circle cx="139.02" cy="490.00" r="0.85" fill="#7a7a7a"/>
<circle cx="143.38" cy="482.40" r="0.85" fill="#7a7a7a"/>
<circle cx="147.74" cy="474.90" r="0.85" fill="#7a7a7a"/>
<circle cx="152.10" cy="468.10" r="0.85" fill="#7a7a7a"/>
<circle cx="156.46" cy="463.80" r="0.85" fill="#7a7a7a"/>
<circle cx="160.82" cy="467.50" r="0.85" fill="#7a7a7a"/>
<circle cx="165.18" cy="478.00" r="0.85" fill="#7a7a7a"/>
<circle cx="169.54" cy="491.00" r="0.85" fill="#7a7a7a"/>
<circle cx="173.90" cy="501.50" r="0.85" fill="#7a7a7a"/>
<circle cx="178.26" cy="508.10" r="0.85" fill="#7a7a7a"/>
<g transform="translate(0,410.1)">
<line x1="28.4" y1="5.6" x2="28.4" y2="100.60000000000001" stroke="#555555" stroke-width="0.8"/>
<line x1="28.0" y1="100.2" x2="178.2" y2="100.2" stroke="#555555" stroke-width="0.8"/>
<line x1="26.5" y1="100.20" x2="28.4" y2="100.20" stroke="#333" stroke-width="0.9"/>
<text x="23.3" y="102.10" class="tk" text-anchor="end">0</text>
<line x1="26.5" y1="74.05" x2="28.4" y2="74.05" stroke="#333" stroke-width="0.9"/>
<text x="23.3" y="75.95" class="tk" text-anchor="end">0.05</text>
<line x1="26.5" y1="47.90" x2="28.4" y2="47.90" stroke="#333" stroke-width="0.9"/>
<text x="23.3" y="49.80" class="tk" text-anchor="end">0.10</text>
<line x1="26.5" y1="21.75" x2="28.4" y2="21.75" stroke="#333" stroke-width="0.9"/>
<text x="23.3" y="23.65" class="tk" text-anchor="end">0.15</text>
<line x1="32.30" y1="100.2" x2="32.30" y2="102.0" stroke="#333" stroke-width="0.9"/>
<text x="32.40" y="109.50" class="tk" text-anchor="middle">10<tspan class="sup" dy="-1.8">1</tspan></text>
<line x1="84.00" y1="100.2" x2="84.00" y2="102.0" stroke="#333" stroke-width="0.9"/>
<text x="84.10" y="109.50" class="tk" text-anchor="middle">10<tspan class="sup" dy="-1.8">2</tspan></text>
<line x1="135.70" y1="100.2" x2="135.70" y2="102.0" stroke="#333" stroke-width="0.9"/>
<text x="135.80" y="109.50" class="tk" text-anchor="middle">10<tspan class="sup" dy="-1.8">3</tspan></text>
<line x1="29.93" y1="100.2" x2="29.93" y2="101.10000000000001" stroke="#555555" stroke-width="0.5"/>
<line x1="47.86" y1="100.2" x2="47.86" y2="101.10000000000001" stroke="#555555" stroke-width="0.5"/>
<line x1="56.97" y1="100.2" x2="56.97" y2="101.10000000000001" stroke="#555555" stroke-width="0.5"/>
<line x1="63.43" y1="100.2" x2="63.43" y2="101.10000000000001" stroke="#555555" stroke-width="0.5"/>
<line x1="68.44" y1="100.2" x2="68.44" y2="101.10000000000001" stroke="#555555" stroke-width="0.5"/>
<line x1="72.53" y1="100.2" x2="72.53" y2="101.10000000000001" stroke="#555555" stroke-width="0.5"/>
<line x1="75.99" y1="100.2" x2="75.99" y2="101.10000000000001" stroke="#555555" stroke-width="0.5"/>
<line x1="78.99" y1="100.2" x2="78.99" y2="101.10000000000001" stroke="#555555" stroke-width="0.5"/>
<line x1="81.63" y1="100.2" x2="81.63" y2="101.10000000000001" stroke="#555555" stroke-width="0.5"/>
<line x1="99.56" y1="100.2" x2="99.56" y2="101.10000000000001" stroke="#555555" stroke-width="0.5"/>
<line x1="108.67" y1="100.2" x2="108.67" y2="101.10000000000001" stroke="#555555" stroke-width="0.5"/>
<line x1="115.13" y1="100.2" x2="115.13" y2="101.10000000000001" stroke="#555555" stroke-width="0.5"/>
<line x1="120.14" y1="100.2" x2="120.14" y2="101.10000000000001" stroke="#555555" stroke-width="0.5"/>
<line x1="124.23" y1="100.2" x2="124.23" y2="101.10000000000001" stroke="#555555" stroke-width="0.5"/>
<line x1="127.69" y1="100.2" x2="127.69" y2="101.10000000000001" stroke="#555555" stroke-width="0.5"/>
<line x1="130.69" y1="100.2" x2="130.69" y2="101.10000000000001" stroke="#555555" stroke-width="0.5"/>
<line x1="133.33" y1="100.2" x2="133.33" y2="101.10000000000001" stroke="#555555" stroke-width="0.5"/>
<line x1="151.26" y1="100.2" x2="151.26" y2="101.10000000000001" stroke="#555555" stroke-width="0.5"/>
<line x1="160.37" y1="100.2" x2="160.37" y2="101.10000000000001" stroke="#555555" stroke-width="0.5"/>
<line x1="166.83" y1="100.2" x2="166.83" y2="101.10000000000001" stroke="#555555" stroke-width="0.5"/>
<line x1="171.84" y1="100.2" x2="171.84" y2="101.10000000000001" stroke="#555555" stroke-width="0.5"/>
<line x1="175.93" y1="100.2" x2="175.93" y2="101.10000000000001" stroke="#555555" stroke-width="0.5"/>
<text transform="translate(103.6,117.3) scale(0.895,1)" class="lb" text-anchor="middle">granule size (μm)</text>
<text transform="translate(10.1,53.6) rotate(-90) scale(0.945,1)" class="yl" text-anchor="middle">volume fraction (-)</text>
<rect x="31.5" y="8.1" width="68.2" height="25.0" rx="1" fill="#fff" fill-opacity="0.8" stroke="#e6e6e6" stroke-width="0.4"/>
<line x1="33.1" y1="12.60" x2="44.9" y2="12.60" stroke="#2596db" stroke-width="1.3"/>
<circle cx="39.2" cy="12.60" r="0.9" fill="#2596db"/>
<text transform="translate(49.4,14.80) scale(0.823,1)" class="lg">Measurement</text>
<line x1="33.1" y1="20.50" x2="44.9" y2="20.50" stroke="#f2402a" stroke-width="1.3"/>
<circle cx="39.2" cy="20.50" r="0.9" fill="#f2402a"/>
<text transform="translate(49.4,22.70) scale(0.878,1)" class="lg">KME LOO prediction</text>
<line x1="33.1" y1="28.40" x2="44.9" y2="28.40" stroke="#7a7a7a" stroke-width="1.3"/>
<circle cx="39.2" cy="28.40" r="0.9" fill="#7a7a7a"/>
<text transform="translate(49.4,30.60) scale(0.864,1)" class="lg">PBM calibration</text>
<text transform="translate(32.9,53.20) scale(0.99,1)" class="an">L/S: 0.3</text>
<text transform="translate(32.9,59.85) scale(0.95,1)" class="an">MFR: 25 kg/h</text>
<text transform="translate(32.9,66.50) scale(0.888,1)" class="an">Screw speed: 450 rpm</text>
<text x="92.6" y="136.1" class="cp" text-anchor="middle">(g)</text>
</g>
<polyline points="211.40,510.30 213.02,510.30 217.38,510.30 221.74,510.30 226.10,510.30 230.46,510.30 234.82,510.30 239.18,510.30 243.54,510.30 247.90,510.30 252.26,510.00 256.62,509.80 260.98,509.50 265.34,508.60 269.70,506.20 274.06,502.70 278.42,494.90 282.78,487.50 287.14,478.80 291.50,473.70 295.86,474.50 300.22,479.60 304.58,486.20 308.94,488.40 313.30,490.90 317.66,489.80 322.02,487.90 326.38,483.50 330.74,478.90 335.10,470.10 339.46,475.60 343.82,448.50 348.18,484.50 352.54,502.80 356.90,509.60 361.26,509.60" fill="none" stroke="#2596db" stroke-width="1.35" stroke-linejoin="round"/>
<circle cx="213.02" cy="510.30" r="0.85" fill="#2596db"/>
<circle cx="217.38" cy="510.30" r="0.85" fill="#2596db"/>
<circle cx="221.74" cy="510.30" r="0.85" fill="#2596db"/>
<circle cx="226.10" cy="510.30" r="0.85" fill="#2596db"/>
<circle cx="230.46" cy="510.30" r="0.85" fill="#2596db"/>
<circle cx="234.82" cy="510.30" r="0.85" fill="#2596db"/>
<circle cx="239.18" cy="510.30" r="0.85" fill="#2596db"/>
<circle cx="243.54" cy="510.30" r="0.85" fill="#2596db"/>
<circle cx="247.90" cy="510.30" r="0.85" fill="#2596db"/>
<circle cx="252.26" cy="510.00" r="0.85" fill="#2596db"/>
<circle cx="256.62" cy="509.80" r="0.85" fill="#2596db"/>
<circle cx="260.98" cy="509.50" r="0.85" fill="#2596db"/>
<circle cx="265.34" cy="508.60" r="0.85" fill="#2596db"/>
<circle cx="269.70" cy="506.20" r="0.85" fill="#2596db"/>
<circle cx="274.06" cy="502.70" r="0.85" fill="#2596db"/>
<circle cx="278.42" cy="494.90" r="0.85" fill="#2596db"/>
<circle cx="282.78" cy="487.50" r="0.85" fill="#2596db"/>
<circle cx="287.14" cy="478.80" r="0.85" fill="#2596db"/>
<circle cx="291.50" cy="473.70" r="0.85" fill="#2596db"/>
<circle cx="295.86" cy="474.50" r="0.85" fill="#2596db"/>
<circle cx="300.22" cy="479.60" r="0.85" fill="#2596db"/>
<circle cx="304.58" cy="486.20" r="0.85" fill="#2596db"/>
<circle cx="308.94" cy="488.40" r="0.85" fill="#2596db"/>
<circle cx="313.30" cy="490.90" r="0.85" fill="#2596db"/>
<circle cx="317.66" cy="489.80" r="0.85" fill="#2596db"/>
<circle cx="322.02" cy="487.90" r="0.85" fill="#2596db"/>
<circle cx="326.38" cy="483.50" r="0.85" fill="#2596db"/>
<circle cx="330.74" cy="478.90" r="0.85" fill="#2596db"/>
<circle cx="335.10" cy="470.10" r="0.85" fill="#2596db"/>
<circle cx="339.46" cy="475.60" r="0.85" fill="#2596db"/>
<circle cx="343.82" cy="448.50" r="0.85" fill="#2596db"/>
<circle cx="348.18" cy="484.50" r="0.85" fill="#2596db"/>
<circle cx="352.54" cy="502.80" r="0.85" fill="#2596db"/>
<circle cx="356.90" cy="509.60" r="0.85" fill="#2596db"/>
<circle cx="361.26" cy="509.60" r="0.85" fill="#2596db"/>
<polyline points="211.40,510.30 213.02,510.30 217.38,510.30 221.74,510.30 226.10,510.30 230.46,510.30 234.82,510.30 239.18,510.30 243.54,510.30 247.90,510.30 252.26,510.00 256.62,509.80 260.98,509.20 265.34,506.90 269.70,504.00 274.06,499.20 278.42,491.20 282.78,482.70 287.14,475.30 291.50,471.80 295.86,473.80 300.22,478.50 304.58,484.00 308.94,487.90 313.30,490.00 317.66,490.60 322.02,489.00 326.38,484.00 330.74,481.60 335.10,473.40 339.46,463.60 343.82,460.90 348.18,495.00 352.54,508.30 356.90,509.60 361.26,509.60" fill="none" stroke="#f2402a" stroke-width="1.35" stroke-linejoin="round"/>
<circle cx="213.02" cy="510.30" r="0.85" fill="#f2402a"/>
<circle cx="217.38" cy="510.30" r="0.85" fill="#f2402a"/>
<circle cx="221.74" cy="510.30" r="0.85" fill="#f2402a"/>
<circle cx="226.10" cy="510.30" r="0.85" fill="#f2402a"/>
<circle cx="230.46" cy="510.30" r="0.85" fill="#f2402a"/>
<circle cx="234.82" cy="510.30" r="0.85" fill="#f2402a"/>
<circle cx="239.18" cy="510.30" r="0.85" fill="#f2402a"/>
<circle cx="243.54" cy="510.30" r="0.85" fill="#f2402a"/>
<circle cx="247.90" cy="510.30" r="0.85" fill="#f2402a"/>
<circle cx="252.26" cy="510.00" r="0.85" fill="#f2402a"/>
<circle cx="256.62" cy="509.80" r="0.85" fill="#f2402a"/>
<circle cx="260.98" cy="509.20" r="0.85" fill="#f2402a"/>
<circle cx="265.34" cy="506.90" r="0.85" fill="#f2402a"/>
<circle cx="269.70" cy="504.00" r="0.85" fill="#f2402a"/>
<circle cx="274.06" cy="499.20" r="0.85" fill="#f2402a"/>
<circle cx="278.42" cy="491.20" r="0.85" fill="#f2402a"/>
<circle cx="282.78" cy="482.70" r="0.85" fill="#f2402a"/>
<circle cx="287.14" cy="475.30" r="0.85" fill="#f2402a"/>
<circle cx="291.50" cy="471.80" r="0.85" fill="#f2402a"/>
<circle cx="295.86" cy="473.80" r="0.85" fill="#f2402a"/>
<circle cx="300.22" cy="478.50" r="0.85" fill="#f2402a"/>
<circle cx="304.58" cy="484.00" r="0.85" fill="#f2402a"/>
<circle cx="308.94" cy="487.90" r="0.85" fill="#f2402a"/>
<circle cx="313.30" cy="490.00" r="0.85" fill="#f2402a"/>
<circle cx="317.66" cy="490.60" r="0.85" fill="#f2402a"/>
<circle cx="322.02" cy="489.00" r="0.85" fill="#f2402a"/>
<circle cx="326.38" cy="484.00" r="0.85" fill="#f2402a"/>
<circle cx="330.74" cy="481.60" r="0.85" fill="#f2402a"/>
<circle cx="335.10" cy="473.40" r="0.85" fill="#f2402a"/>
<circle cx="339.46" cy="463.60" r="0.85" fill="#f2402a"/>
<circle cx="343.82" cy="460.90" r="0.85" fill="#f2402a"/>
<circle cx="348.18" cy="495.00" r="0.85" fill="#f2402a"/>
<circle cx="352.54" cy="508.30" r="0.85" fill="#f2402a"/>
<circle cx="356.90" cy="509.60" r="0.85" fill="#f2402a"/>
<circle cx="361.26" cy="509.60" r="0.85" fill="#f2402a"/>
<g transform="translate(183,410.1)">
<line x1="28.4" y1="5.6" x2="28.4" y2="100.60000000000001" stroke="#555555" stroke-width="0.8"/>
<line x1="28.0" y1="100.2" x2="178.2" y2="100.2" stroke="#555555" stroke-width="0.8"/>
<line x1="26.5" y1="100.20" x2="28.4" y2="100.20" stroke="#333" stroke-width="0.9"/>
<text x="23.3" y="102.10" class="tk" text-anchor="end">0</text>
<line x1="26.5" y1="74.05" x2="28.4" y2="74.05" stroke="#333" stroke-width="0.9"/>
<text x="23.3" y="75.95" class="tk" text-anchor="end">0.05</text>
<line x1="26.5" y1="47.90" x2="28.4" y2="47.90" stroke="#333" stroke-width="0.9"/>
<text x="23.3" y="49.80" class="tk" text-anchor="end">0.10</text>
<line x1="26.5" y1="21.75" x2="28.4" y2="21.75" stroke="#333" stroke-width="0.9"/>
<text x="23.3" y="23.65" class="tk" text-anchor="end">0.15</text>
<line x1="32.30" y1="100.2" x2="32.30" y2="102.0" stroke="#333" stroke-width="0.9"/>
<text x="32.40" y="109.50" class="tk" text-anchor="middle">10<tspan class="sup" dy="-1.8">1</tspan></text>
<line x1="84.00" y1="100.2" x2="84.00" y2="102.0" stroke="#333" stroke-width="0.9"/>
<text x="84.10" y="109.50" class="tk" text-anchor="middle">10<tspan class="sup" dy="-1.8">2</tspan></text>
<line x1="135.70" y1="100.2" x2="135.70" y2="102.0" stroke="#333" stroke-width="0.9"/>
<text x="135.80" y="109.50" class="tk" text-anchor="middle">10<tspan class="sup" dy="-1.8">3</tspan></text>
<line x1="29.93" y1="100.2" x2="29.93" y2="101.10000000000001" stroke="#555555" stroke-width="0.5"/>
<line x1="47.86" y1="100.2" x2="47.86" y2="101.10000000000001" stroke="#555555" stroke-width="0.5"/>
<line x1="56.97" y1="100.2" x2="56.97" y2="101.10000000000001" stroke="#555555" stroke-width="0.5"/>
<line x1="63.43" y1="100.2" x2="63.43" y2="101.10000000000001" stroke="#555555" stroke-width="0.5"/>
<line x1="68.44" y1="100.2" x2="68.44" y2="101.10000000000001" stroke="#555555" stroke-width="0.5"/>
<line x1="72.53" y1="100.2" x2="72.53" y2="101.10000000000001" stroke="#555555" stroke-width="0.5"/>
<line x1="75.99" y1="100.2" x2="75.99" y2="101.10000000000001" stroke="#555555" stroke-width="0.5"/>
<line x1="78.99" y1="100.2" x2="78.99" y2="101.10000000000001" stroke="#555555" stroke-width="0.5"/>
<line x1="81.63" y1="100.2" x2="81.63" y2="101.10000000000001" stroke="#555555" stroke-width="0.5"/>
<line x1="99.56" y1="100.2" x2="99.56" y2="101.10000000000001" stroke="#555555" stroke-width="0.5"/>
<line x1="108.67" y1="100.2" x2="108.67" y2="101.10000000000001" stroke="#555555" stroke-width="0.5"/>
<line x1="115.13" y1="100.2" x2="115.13" y2="101.10000000000001" stroke="#555555" stroke-width="0.5"/>
<line x1="120.14" y1="100.2" x2="120.14" y2="101.10000000000001" stroke="#555555" stroke-width="0.5"/>
<line x1="124.23" y1="100.2" x2="124.23" y2="101.10000000000001" stroke="#555555" stroke-width="0.5"/>
<line x1="127.69" y1="100.2" x2="127.69" y2="101.10000000000001" stroke="#555555" stroke-width="0.5"/>
<line x1="130.69" y1="100.2" x2="130.69" y2="101.10000000000001" stroke="#555555" stroke-width="0.5"/>
<line x1="133.33" y1="100.2" x2="133.33" y2="101.10000000000001" stroke="#555555" stroke-width="0.5"/>
<line x1="151.26" y1="100.2" x2="151.26" y2="101.10000000000001" stroke="#555555" stroke-width="0.5"/>
<line x1="160.37" y1="100.2" x2="160.37" y2="101.10000000000001" stroke="#555555" stroke-width="0.5"/>
<line x1="166.83" y1="100.2" x2="166.83" y2="101.10000000000001" stroke="#555555" stroke-width="0.5"/>
<line x1="171.84" y1="100.2" x2="171.84" y2="101.10000000000001" stroke="#555555" stroke-width="0.5"/>
<line x1="175.93" y1="100.2" x2="175.93" y2="101.10000000000001" stroke="#555555" stroke-width="0.5"/>
<text transform="translate(103.6,117.3) scale(0.895,1)" class="lb" text-anchor="middle">granule size (μm)</text>
<text transform="translate(10.1,53.6) rotate(-90) scale(0.945,1)" class="yl" text-anchor="middle">volume fraction (-)</text>
<rect x="31.5" y="8.1" width="68.2" height="17.1" rx="1" fill="#fff" fill-opacity="0.8" stroke="#e6e6e6" stroke-width="0.4"/>
<line x1="33.1" y1="12.60" x2="44.9" y2="12.60" stroke="#2596db" stroke-width="1.3"/>
<circle cx="39.2" cy="12.60" r="0.9" fill="#2596db"/>
<text transform="translate(49.4,14.80) scale(0.823,1)" class="lg">Measurement</text>
<line x1="33.1" y1="20.50" x2="44.9" y2="20.50" stroke="#f2402a" stroke-width="1.3"/>
<circle cx="39.2" cy="20.50" r="0.9" fill="#f2402a"/>
<text transform="translate(49.4,22.70) scale(0.878,1)" class="lg">KME LOO prediction</text>
<text transform="translate(32.9,53.20) scale(0.99,1)" class="an">L/S: 0.3</text>
<text transform="translate(32.9,59.85) scale(0.95,1)" class="an">MFR: 25 kg/h</text>
<text transform="translate(32.9,66.50) scale(0.888,1)" class="an">Screw speed: 675 rpm</text>
<text x="92.6" y="136.1" class="cp" text-anchor="middle">(h)</text>
</g>
</svg>
</body></html>
